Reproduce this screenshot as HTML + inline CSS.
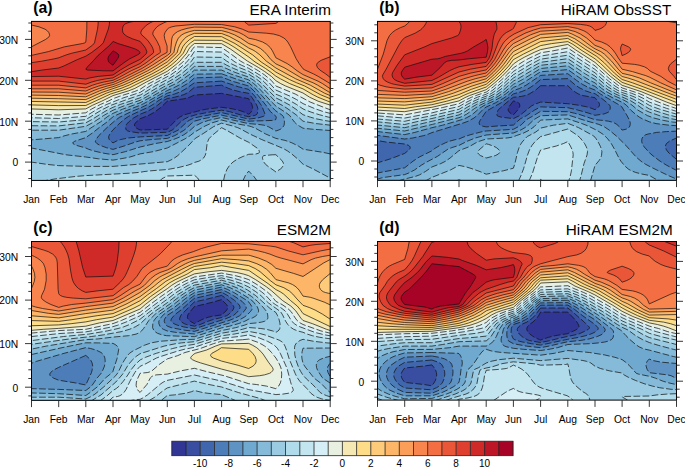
<!DOCTYPE html>
<html><head><meta charset="utf-8"><title>Seasonal cycle contour panels</title>
<style>
html,body{margin:0;padding:0;background:#fff;}
body{width:685px;height:467px;overflow:hidden;}
svg{display:block;}
text{font-family:"Liberation Sans",sans-serif;fill:#000;}
.tl{font-size:10.3px;}
.cl{font-size:10px;}
.tg{font-size:15.8px;font-weight:bold;}
.tt{font-size:15.3px;}
</style></head><body>
<svg width="685" height="467" viewBox="0 0 685 467">
<rect width="685" height="467" fill="#fff"/>
<clipPath id="clip_a"><rect x="31.5" y="21.4" width="298.7" height="159.0"/></clipPath>
<g clip-path="url(#clip_a)">
<rect x="30.5" y="20.4" width="300.7" height="161.0" fill="#313695"/>
<path fill="#394ea1" fill-rule="evenodd" d="M30 20.4L331.7 20.4L331.7 181.2L30 181.2L30 20.4ZM221.6 93.4L194.4 95L189.8 97.2L183.9 98.8L167.3 101.2L160.6 107.6L154.1 112.4L148.2 115.6L140.1 118.7L135.4 122.8L134.5 124.4L134.6 126L135.8 127.6L136.8 128.4L140.1 130L167.3 129.2L176.5 119.6L179.6 117.2L184.2 114.8L202 110L206.4 109.2L221.6 107.3L229.8 108.4L238 110L243 111.6L248.7 114.2L250.1 113.2L251.4 111.6L252.2 110L252.6 107.6L251.9 104.4L248.7 98.7L221.6 93.4Z"/>
<path fill="#4067ad" fill-rule="evenodd" d="M30 20.4L331.7 20.4L331.7 181.2L30 181.2L30 20.4ZM221.6 85.2L194.4 87.3L189.3 91.6L186.8 93.2L183.3 94.8L174.7 97.2L167.3 98.5L163.6 100.4L157.6 105.2L151.4 109.2L146.7 111.6L140.1 114.2L133.5 118L128.6 122L126.5 124.4L125.6 126.8L125.9 129.2L126.4 130L127.5 130.8L129.9 131.6L140.1 133.1L167.3 132.3L172.2 130L173.3 129.2L181.4 121.2L184.9 118.8L188.1 117.2L195.7 114.8L212.1 111.6L221.6 110.2L229.4 111.6L240.3 114.8L248.7 116.7L254.1 115.6L256.3 114.8L257.1 114L257.4 113.2L257.8 110.8L257.8 108.4L257.1 106L255.9 103.6L252.3 98L248.7 93.3L239.4 91.6L233.1 90L228.5 88.4L221.6 85.2Z"/>
<path fill="#4c7db8" fill-rule="evenodd" d="M30 20.4L331.7 20.4L331.7 181.2L30 181.2L30 20.4ZM221.6 81.1L194.4 82.8L185.1 89.2L180.9 91.6L174.6 94L167.3 95.8L158.8 100.4L153.1 104.4L149.1 106.8L131.6 114.8L128.5 116.4L124.9 118.8L120.2 122.8L113 129.8L111 132.4L109.4 134.8L108.7 136.4L108.7 138L109.3 139.6L110.7 141.2L113 142.9L116.2 141.2L120.4 139.6L128.2 138L140.1 136.9L167.3 135.5L178.3 130L186.9 122L189.1 120.4L192.3 118.8L194.4 117.9L201.4 116.4L221.6 112.6L248.7 119.1L257.8 118L263.3 116.4L264.7 115.6L265.3 114.8L261.8 106L255 96.4L248.7 89.4L238.5 86.8L221.6 81.1Z"/>
<path fill="#5e93c4" fill-rule="evenodd" d="M30 20.4L331.7 20.4L331.7 181.2L30 181.2L30 20.4ZM221.6 77L194.4 77.9L188.8 82.8L177.8 89.2L172.4 91.6L167.3 93.2L154.1 100.4L146.2 105.2L141.1 107.6L131.2 111.6L119.7 117.2L115.3 120.4L107 127.6L98.8 135.6L96 139.6L95.4 141.2L95.5 142L96.9 143.6L99.7 145.2L106.2 147.6L113 149.4L124.1 146L135.5 142L140.1 140.8L150.9 139.6L167.3 138.4L174.8 135.6L183.2 130.8L185.4 129.2L191.4 123.6L194.4 121.2L203 118.8L221.6 115.1L237.1 118.8L248.7 121.2L273.4 120.4L275.8 119.6L276.3 117.2L275.9 116.2L270.4 111.6L265.9 105.2L258.2 95.6L253.9 90.8L248.7 86L232.3 81.2L221.6 77Z"/>
<path fill="#70a9cf" fill-rule="evenodd" d="M30 20.4L331.7 20.4L331.7 181.2L30 181.2L30 20.4ZM221.6 73.8L194.4 74.2L185.4 81.2L181.8 83.6L174.1 87.6L167.3 90.5L143.8 103.6L140.1 105.3L125.9 110.8L113.5 116.4L105.9 122.8L99.2 127.6L93.2 132.4L85.8 137.6L74.8 141.2L73.4 142L72.8 142.8L73 143.6L75.8 145.2L85.8 148L88.4 149.2L93.1 150.8L103.5 153.2L113 154.7L125.6 151.6L140.1 147L155.1 143.6L167.3 141.5L173.2 139.6L179.3 137.2L183.8 134.8L189.6 130.8L194.4 126.5L201.5 122.8L208.4 120.4L221.6 117.5L248.4 123.6L258.3 124.4L264 125.2L268.6 126.8L275.9 131L278.8 130L280.5 129.2L282.7 127.6L284.1 125.2L284.4 122.8L284.4 120.4L283.9 118L283.3 116.4L281.7 114.8L275.9 111L274.8 110L256.1 89.2L248.7 82.9L237.8 79.6L221.6 73.8Z"/>
<path fill="#85bbd8" fill-rule="evenodd" d="M30 20.4L331.7 20.4L331.7 130.6L312.3 129.2L303 128.2L299.3 126L296.9 124.4L294.4 122L289.8 115.6L286.7 113.2L275.9 106.1L271.7 102L259.1 88.4L253.8 83.6L248.7 79.9L230.8 74L221.6 70.1L194.4 70.1L189.1 74.8L177.6 82.8L167.3 87.7L152.1 96.4L140.1 102.8L122.5 109.2L113 113.4L107.8 116.4L100.4 122L92.6 126.8L85.8 131.4L71.7 134L65.1 135.6L58.7 137.6L30 140L30 20.4ZM219.9 120.4L221.6 120L235.6 123.6L249.1 126L251.8 126.8L255.7 128.4L265.7 134L275.9 138.4L285.1 140.4L291.8 142.8L298.3 146L303 149.2L323.3 152.4L330.2 153.9L331.7 153.9L331.7 181.2L30 181.2L30 148L31.5 148L66 154.8L85.8 157L98.4 158.8L113 160.1L116.3 159.6L129.4 157.2L140.1 153.9L153.6 151.6L167.3 148L185.1 138.8L190.2 135.6L194.4 132.2L205.1 126L212.2 122.8L219.9 120.4Z"/>
<path fill="#9acbe2" fill-rule="evenodd" d="M30 20.4L331.7 20.4L331.7 125.3L316.1 123.6L303 121.2L296.1 114.8L289.5 110L283.5 106L275.9 102L264.5 90L258.7 84.4L253.8 80.4L248.7 77.1L235.1 72.4L221.6 66.4L194.4 66.4L185.6 74L176 80.4L171.9 82.8L163.8 86.8L147.4 96.4L140.1 100.3L125.7 105.2L113 110.2L103.5 115.6L93.9 122L85.8 126.3L58.7 130.2L30 130.2L30 20.4ZM220.6 123.6L221.6 123.2L232.8 126L237.6 127.6L241.1 129.2L249.8 134L261.8 139.6L269.1 142.8L279.5 146.8L284.6 149.2L288.6 151.6L291.8 154L298.4 159.6L303 164.2L312 168.4L330.2 178.1L331.7 178.1L331.7 181.2L257.3 181.2L253.8 176.4L248.7 171.1L245.3 175.6L242.7 181.2L30 181.2L30 162.1L31.5 162.1L47.2 164.4L58.7 165.6L85.8 166.4L113 166.4L167.3 161.7L173.4 158.8L177.8 155.6L188.9 145.2L194.4 139.2L195.9 138L203.8 133.2L213.3 126.8L220.6 123.6Z"/>
<path fill="#afdbea" fill-rule="evenodd" d="M30 20.4L331.7 20.4L331.7 121.4L330.2 121.4L324 120.4L316.3 118.8L310.4 117.2L303 114.7L295.9 109.2L289.9 105.2L282.6 101.2L275.9 97.9L261 82.8L258.2 80.4L253.6 77.2L248.7 74.2L241.3 71.6L233.5 68.4L226.7 65.2L221.6 62.3L194.4 62.3L189.8 66.8L183.2 72.4L179.9 74.8L169.4 81.2L158.7 86.8L144.1 95.6L140.1 97.8L120.5 104.4L113 107.3L106 110.8L91.7 119.6L85.8 122.8L58.7 125.9L30 125.7L30 20.4ZM220.8 128.4L221.6 127.7L224.5 129.2L239.9 138L248.7 142.3L257.6 148.4L258.8 150L259.4 151.6L259.3 152.4L258.7 153.2L255.8 154L248.7 154.3L243.1 156.4L237.9 158.8L233 162L229.7 165.2L227 169.2L224.8 174.8L223.4 181.2L41.4 181.2L55.9 178.8L76.1 176.4L85.8 175.6L129.8 173.2L140.1 172.3L143.9 171.6L150.7 170.8L167.3 169.5L178.1 167.6L187.8 165.2L192.3 163.6L194.4 162.5L198.9 161.2L201.9 159.6L203.6 158L205.1 155.6L205.9 153.2L207 144.4L207.9 141.2L208.9 138.8L212 135.6L220.8 128.4ZM272.2 154.8L275.9 154.7L281.8 160.4L282.9 162L283.5 163.6L283.4 165.2L282 167.6L280.2 169.2L275.9 171.9L268.6 166.8L265.6 164.4L263.8 162L262.6 158.8L262.5 157.2L262.8 156.4L263.8 155.6L272.2 154.8Z"/>
<path fill="#c3e5f0" fill-rule="evenodd" d="M30 20.4L331.7 20.4L331.7 117.5L328.7 117.2L319.6 114.8L311.9 112.4L305.5 110L303 108.9L296.4 104.4L288.1 99.6L283.2 97.2L275.9 94.2L264.3 82L261.6 79.6L257.1 76.4L248.7 71.3L239.3 67.6L230.9 63.6L226.8 61.2L221.6 57.4L194.4 57L191.4 61.2L189.2 63.6L177.7 73.2L170 78L155 86L140.8 94.8L128.9 98.8L111.2 105.2L101.6 110L85.8 119.6L58.7 122L30 121.6L30 20.4ZM184 175.6L194.4 175.2L197.7 178L199.7 181.2L160.6 181.2L160.5 180.4L161.8 178.8L167.3 176L184 175.6Z"/>
<path fill="#d6eef6" fill-rule="evenodd" d="M30 20.4L331.7 20.4L331.7 113.4L330.2 113.4L323.3 111.6L314.2 108.4L303 103.6L296.6 99.6L290.6 96.4L275.9 90.1L267.7 81.2L260.7 75.6L248.7 68.3L241.4 65.2L235 62L221.6 52.1L194.4 51.5L190.1 58L186 62.8L176.5 70.8L170.8 74.8L151.2 85.2L140.1 92.4L123 98L106.8 104.4L97.2 109.2L85.8 116.3L58.7 118.5L30 117.7L30 20.4Z"/>
<path fill="#e8f0e1" fill-rule="evenodd" d="M30 20.4L331.7 20.4L331.7 109.7L330.2 109.7L328.6 109.2L310.1 102L295.2 94L275.9 86L271.3 80.4L264.4 74.8L258.4 70.8L248.8 65.2L243.5 62.8L240.7 61.2L227.6 51.6L221.6 47.6L194.4 46.8L192.4 49.2L190 53.2L187.6 56.4L182.9 62L172.2 70.8L167.5 74L147.4 84.4L140.1 89.3L134.3 91.6L119.2 96.4L113 98.7L108.1 101.2L100.6 104.4L95.7 106.8L91.3 109.2L85.8 112.8L58.7 115L30 114.2L30 20.4Z"/>
<path fill="#f5e8b2" fill-rule="evenodd" d="M30 20.4L331.7 20.4L331.7 105.1L330.2 105.1L318.1 101.2L309.6 97.2L303 93L285.6 86L280.7 83.6L275.9 80.7L271.4 76.4L264.8 71.6L258.6 67.6L247.6 61.2L230.7 49.2L221.6 43.7L194.4 43.5L190.5 46.8L188.8 49.2L186.7 53.2L179.8 61.2L176.2 64.4L167.3 71.3L146.4 82L134.9 88.4L128.7 90.8L113 95.6L101.7 101.2L92.7 105.2L85.8 108.9L58.7 109.8L30 108.9L30 20.4Z"/>
<path fill="#fedd89" fill-rule="evenodd" d="M30 20.4L331.7 20.4L331.7 102L330.2 102L327.9 101.2L317.9 97.2L313.2 94.8L303 88.9L289.7 83.6L280.4 78.8L275.9 76.2L271.1 72.4L265.4 68.4L255.1 62L249 57.2L234.9 47.6L228.3 43.6L221.6 40.4L194.4 40.2L190.6 42.8L187.2 46L185.7 48.4L183.3 53.2L176.7 60.4L171.1 65.2L163 70.8L157.1 74L129.9 87.6L123.4 90L110.6 94L85.8 105.5L58.7 105.6L30 104.9L30 20.4Z"/>
<path fill="#fecb7a" fill-rule="evenodd" d="M30 20.4L331.7 20.4L331.7 98.7L330.2 98.7L320.7 94.8L304.7 86L296.7 82.8L289.6 79.6L275.9 72.1L270.9 68.4L261.2 62L252.5 54.8L235.1 43.6L222.6 37.2L221.6 36.7L194.4 36.5L189.5 39.6L185.1 43.6L182.8 46.8L180 53.2L173.7 59.6L167.3 65L159.2 70L151.9 74L129 85.2L121 88.4L113 90.8L106.4 93.2L85.8 102.5L30 101.4L30 20.4Z"/>
<path fill="#fdb667" fill-rule="evenodd" d="M30 20.4L331.7 20.4L331.7 95.6L330.2 95.6L324.5 93.2L310.4 85.2L295.7 78.8L275.9 68L266.4 61.2L259.8 54.8L255.6 51.6L253 50L248.7 48L239.4 42L229.2 36.4L221.6 33.5L194.4 33.3L188.7 35.6L186.1 37.2L184.3 38.8L181.6 42L179.6 45.2L178.3 48.4L177.2 52.4L176.6 53.2L167.3 61.9L151.3 71.6L130.4 82L123.1 85.2L102.1 92.4L85.8 99.6L58.7 98.7L30 98.2L30 20.4Z"/>
<path fill="#fb9e59" fill-rule="evenodd" d="M30 20.4L331.7 20.4L331.7 92.6L330.2 92.6L328.3 91.6L317.7 85.2L313.1 82.8L303 78.7L300.1 77.2L284 67.6L275.9 63.9L270.9 59.6L267.1 54.8L264.2 51.6L260.3 48.4L255.8 46L248.7 43.5L240.5 38L234.5 34.8L228.2 32.4L221.6 30.6L194.4 30.4L189.5 31.6L184.8 33.2L181.9 34.8L179.9 36.4L178 38.8L176.5 42L175 46.8L173.9 52.4L173.3 53.2L167.3 58.6L155.9 66L147.7 70.8L128.4 80.4L119.3 84.4L113 86.7L106.7 88.4L99.7 90.8L85.8 96.8L58.7 95.5L30 95.1L30 20.4Z"/>
<path fill="#f8854d" fill-rule="evenodd" d="M30 20.4L331.7 20.4L331.7 88.7L330.2 88.7L322.5 83.6L318.1 81.2L303 74.6L297.1 70.8L292 66.8L287.2 63.6L275.9 57.8L272.4 50.8L270.3 47.6L266.8 44.4L262.6 42L255.6 39.6L248.7 38.2L243.6 34.8L238.8 32.4L231.8 30L222.8 27.6L221.6 27.4L194.4 27.1L187 28.4L181.4 30L177.6 31.6L174.2 34L172.5 36.4L171.8 38.8L170.5 52.4L170 53.2L167.3 55.4L152.3 65.2L144.1 70L124.9 79.6L115.7 83.6L113 84.6L107.3 86L99.4 88.4L93 90.8L85.8 94L58.7 92.2L30 92L30 20.4Z"/>
<path fill="#f36e42" fill-rule="evenodd" d="M30 20.4L331.7 20.4L331.7 83.6L330.2 83.6L318.2 76.4L313.7 74L304.9 70L303 68.8L299.2 63.6L296.2 58.8L290.6 46.8L287.8 42L285.8 39.6L283.9 38L279.3 35.6L273.3 34L266.5 33.2L248.7 32L242.3 29.2L234.8 26.8L221.6 24.5L194.4 24.3L175.8 26L171.9 26.8L169.6 27.6L168.2 28.4L167.3 29.2L165.1 32.4L164.5 34L164.2 35.6L164.7 38.8L167.1 46L167.1 52.4L161.2 55.6L149.8 63.6L142.1 68.4L121.4 78.8L113 82.5L104.5 84.4L98.8 86L92 88.4L85.8 91L58.7 88.8L30 88.8L30 46.8L31.5 46.8L45.3 39.6L48.7 37.2L49.6 35.6L49.4 34L48.7 32.4L47.3 30.8L45.1 29.2L39 26.8L32.1 25.2L30 25.1L30 20.4Z"/>
<path fill="#ea5738" fill-rule="evenodd" d="M86.9 20.4L177.6 20.4L167.3 21.4L163.9 22.8L159.3 25.2L157.1 26.8L154.9 29.2L153.3 31.6L152.8 33.2L153 34.8L157 41.2L159.7 46.8L160.4 51.6L160.4 52.4L159.5 53.2L155.6 55.6L146.1 62.8L140.1 66.7L131.1 70.8L114.6 79.6L113 80.3L103.9 82L97.5 83.6L92.5 85.2L85.8 87.9L58.7 85.2L30 85.2L30 55.4L31.5 55.4L48.4 51.6L64.5 46.8L82.2 43.6L85 42.8L85.8 42.1L86.1 38.8L86.8 29.2L86.9 20.4ZM244.5 20.4L278.8 20.4L277.9 22L275.9 23.4L248.7 25.1L244.7 22L244.1 21.2L244.5 20.4ZM329 57.2L330.2 56.8L331.7 56.8L331.7 77.4L330.2 77.4L325.8 74L319.8 70L317.5 67.6L316.6 65.2L317 63.6L317.5 62.8L319.5 61.2L322.6 59.6L329 57.2Z"/>
<path fill="#df3f2e" fill-rule="evenodd" d="M98.2 20.4L155.2 20.4L150.2 22.8L146.4 25.2L142.5 29.2L141.4 30.8L140.8 32.4L140.8 33.2L141.7 34.8L147.8 40.4L151.7 46L152.8 48.4L153.5 50.8L153.6 52.4L153.1 53.2L140.1 63.5L128 69.2L113 77.9L106.1 78.8L97.7 80.4L91.8 82L85.8 84.2L58.7 81.1L30 81.1L30 62.7L31.5 62.7L46.3 60.4L58.7 57.8L69 54L85.8 50L92.5 45.2L94 43.6L95 41.2L97.7 28.4L98.1 24.4L98.2 20.4Z"/>
<path fill="#d02a28" fill-rule="evenodd" d="M109.5 20.4L140.5 20.4L130.2 22L125.7 23.6L124.5 24.4L123.2 26L122.4 29.2L122.9 32.4L124.7 34.8L127 36.4L130.3 38L140.1 41.4L145.2 47.6L146.6 50.8L146.9 52.4L146.6 53.2L144.4 55.6L140.1 59.4L129.8 64.4L120.3 70L113 75L98.2 76.4L89.3 78L85.8 79.1L58.7 76.2L30 76.6L30 71.7L31.5 71.7L42.3 70L58.7 68L63.8 66L77.3 59.6L85.8 56.2L93 51.6L100.2 46L103.3 42.8L108.3 29.2L109.4 24.4L109.5 20.4Z"/>
<path fill="#bc1627" fill-rule="evenodd" d="M112.6 42L113 41.4L118.1 43.6L131.4 47.6L135.7 49.2L138.6 50.8L139.5 51.6L140 52.4L140 53.2L137.7 54.8L129.7 58.8L123.8 62.8L113 70.9L103.8 70.8L87.1 70L85.8 69.2L87.5 66.8L92.2 62L97.9 55.6L109.8 45.2L112.6 42Z"/>
<path fill="#a70326" fill-rule="evenodd" d="M112.4 51.6L113 50.9L115.9 52.4L118.1 54L118.8 55.6L118.5 57.2L117.6 58.8L113 65.2L109.5 62.8L108.4 61.2L108 59.6L108 58L108.6 56.4L112.4 51.6Z"/>
<path fill="none" stroke="#111" stroke-width="0.7" stroke-linejoin="round" d="M331.7 105.1L330.2 105.1L318.1 101.2L309.6 97.2L303 93L285.6 86L280.7 83.6L275.9 80.7L271.4 76.4L264.8 71.6L258.6 67.6L247.6 61.2L230.7 49.2L221.6 43.7L194.4 43.5L190.5 46.8L188.8 49.2L186.7 53.2L179.8 61.2L176.2 64.4L167.3 71.3L146.4 82L134.9 88.4L128.7 90.8L113 95.6L101.7 101.2L92.7 105.2L85.8 108.9L58.7 109.8L30 108.9M331.7 102L330.2 102L327.9 101.2L317.9 97.2L313.2 94.8L303 88.9L289.7 83.6L280.4 78.8L275.9 76.2L271.1 72.4L265.4 68.4L255.1 62L249 57.2L234.9 47.6L228.3 43.6L221.6 40.4L194.4 40.2L190.6 42.8L187.2 46L185.7 48.4L183.3 53.2L176.7 60.4L171.1 65.2L163 70.8L157.1 74L129.9 87.6L123.4 90L110.6 94L85.8 105.5L58.7 105.6L30 104.9M331.7 98.7L330.2 98.7L320.7 94.8L304.7 86L296.7 82.8L289.6 79.6L275.9 72.1L270.9 68.4L261.2 62L252.5 54.8L235.1 43.6L222.6 37.2L221.6 36.7L194.4 36.5L189.5 39.6L185.1 43.6L182.8 46.8L180 53.2L173.7 59.6L167.3 65L159.2 70L151.9 74L129 85.2L121 88.4L113 90.8L106.4 93.2L85.8 102.5L30 101.4M331.7 95.6L330.2 95.6L324.5 93.2L310.4 85.2L295.7 78.8L275.9 68L266.4 61.2L259.8 54.8L255.6 51.6L253 50L248.7 48L239.4 42L229.2 36.4L221.6 33.5L194.4 33.3L188.7 35.6L186.1 37.2L184.3 38.8L181.6 42L179.6 45.2L178.3 48.4L177.2 52.4L176.6 53.2L167.3 61.9L151.3 71.6L130.4 82L123.1 85.2L102.1 92.4L85.8 99.6L58.7 98.7L30 98.2M331.7 92.6L330.2 92.6L328.3 91.6L317.7 85.2L313.1 82.8L303 78.7L300.1 77.2L284 67.6L275.9 63.9L270.9 59.6L267.1 54.8L264.2 51.6L260.3 48.4L255.8 46L248.7 43.5L240.5 38L234.5 34.8L228.2 32.4L221.6 30.6L194.4 30.4L189.5 31.6L184.8 33.2L181.9 34.8L179.9 36.4L178 38.8L176.5 42L175 46.8L173.9 52.4L173.3 53.2L167.3 58.6L155.9 66L147.7 70.8L128.4 80.4L119.3 84.4L113 86.7L106.7 88.4L99.7 90.8L85.8 96.8L58.7 95.5L30 95.1M331.7 88.7L330.2 88.7L322.5 83.6L318.1 81.2L303 74.6L297.1 70.8L292 66.8L287.2 63.6L275.9 57.8L272.4 50.8L270.3 47.6L266.8 44.4L262.6 42L255.6 39.6L248.7 38.2L243.6 34.8L238.8 32.4L231.8 30L222.8 27.6L221.6 27.4L194.4 27.1L187 28.4L181.4 30L177.6 31.6L174.2 34L172.5 36.4L171.8 38.8L170.5 52.4L170 53.2L167.3 55.4L152.3 65.2L144.1 70L124.9 79.6L115.7 83.6L113 84.6L107.3 86L99.4 88.4L93 90.8L85.8 94L58.7 92.2L30 92M30 46.8L31.5 46.8L45.3 39.6L48.7 37.2L49.6 35.6L49.4 34L48.7 32.4L47.3 30.8L45.1 29.2L39 26.8L32.1 25.2L30 25.1M331.7 83.6L330.2 83.6L318.2 76.4L313.7 74L304.9 70L303 68.8L299.2 63.6L296.2 58.8L290.6 46.8L287.8 42L285.8 39.6L283.9 38L279.3 35.6L273.3 34L266.5 33.2L248.7 32L242.3 29.2L234.8 26.8L221.6 24.5L194.4 24.3L175.8 26L171.9 26.8L169.6 27.6L168.2 28.4L167.3 29.2L165.1 32.4L164.5 34L164.2 35.6L164.7 38.8L167.1 46L167.1 52.4L161.2 55.6L149.8 63.6L142.1 68.4L121.4 78.8L113 82.5L104.5 84.4L98.8 86L92 88.4L85.8 91L58.7 88.8L30 88.8M177.6 20.4L167.3 21.4L163.9 22.8L159.3 25.2L157.1 26.8L154.9 29.2L153.3 31.6L152.8 33.2L153 34.8L157 41.2L159.7 46.8L160.4 51.6L160.4 52.4L159.5 53.2L155.6 55.6L146.1 62.8L140.1 66.7L131.1 70.8L119.5 77.2L113 80.3L103.9 82L97.5 83.6L92.5 85.2L85.8 87.9L58.7 85.2L30 85.2M278.8 20.4L277.9 22L275.9 23.4L248.7 25.1L244.7 22L244.1 21.2L244.5 20.4M30 55.4L31.5 55.4L48.4 51.6L64.5 46.8L82.2 43.6L85 42.8L85.8 42.1L86.1 38.8L86.8 29.2L86.9 20.4M331.7 77.4L330.2 77.4L325.8 74L319.8 70L317.5 67.6L316.6 65.2L317 63.6L317.5 62.8L320.9 60.4L330.2 56.8L331.7 56.8M155.2 20.4L150.2 22.8L146.4 25.2L142.5 29.2L141.4 30.8L140.8 32.4L140.8 33.2L141.7 34.8L147.8 40.4L151.7 46L152.8 48.4L153.5 50.8L153.6 52.4L153.1 53.2L140.1 63.5L128 69.2L113 77.9L106.1 78.8L97.7 80.4L91.8 82L85.8 84.2L58.7 81.1L30 81.1M30 62.7L31.5 62.7L41.6 61.2L54.4 58.8L58.7 57.8L66.5 54.8L71.9 53.2L85.8 50L92.5 45.2L94.5 42.8L97.5 29.2L98.1 24.4L98.2 20.4M140.5 20.4L130.2 22L125.7 23.6L124.5 24.4L123.2 26L122.5 28.4L122.5 30.8L122.9 32.4L123.9 34L127 36.4L132.4 38.8L140.1 41.4L144 46L145.6 48.4L146.8 51.6L146.6 53.2L144.4 55.6L140.1 59.4L129.8 64.4L120.3 70L113 75L98.2 76.4L89.3 78L85.8 79.1L58.7 76.2L30 76.6M30 71.7L31.5 71.7L42.3 70L58.7 68L63.8 66L77.3 59.6L85.8 56.2L91.8 52.4L100.2 46L103.3 42.8L108.3 29.2L109.4 24.4L109.5 20.4M112.6 42L113 41.4L118.1 43.6L131.4 47.6L135.7 49.2L138.6 50.8L139.5 51.6L140 52.4L140 53.2L137.7 54.8L129.7 58.8L123.8 62.8L113 70.9L103.8 70.8L87.1 70L85.8 69.2L87.5 66.8L92.2 62L97.9 55.6L109.8 45.2L112.6 42M112.4 51.6L113 50.9L115.9 52.4L118.1 54L118.8 55.6L118.5 57.2L117.6 58.8L113 65.2L109.5 62.8L108.4 61.2L108 59.6L108 58L108.6 56.4L112.4 51.6"/>
<path fill="none" stroke="#111" stroke-width="0.72" stroke-dasharray="6.7 2.4" d="M221.6 93.4L194.4 95L189.8 97.2L183.9 98.8L167.3 101.2L160.6 107.6L154.1 112.4L148.2 115.6L140.1 118.7L135.4 122.8L134.5 124.4L134.6 126L135.8 127.6L136.8 128.4L140.1 130L167.3 129.2L176.5 119.6L179.6 117.2L184.2 114.8L202 110L206.4 109.2L221.6 107.3L229.8 108.4L238 110L243 111.6L248.7 114.2L250.1 113.2L251.4 111.6L252.2 110L252.6 107.6L251.9 104.4L248.7 98.7L221.6 93.4M221.6 85.2L194.4 87.3L189.3 91.6L186.8 93.2L183.3 94.8L174.7 97.2L167.3 98.5L163.6 100.4L157.6 105.2L151.4 109.2L146.7 111.6L140.1 114.2L133.5 118L128.6 122L126.5 124.4L125.6 126.8L125.9 129.2L126.4 130L127.5 130.8L129.9 131.6L140.1 133.1L167.3 132.3L172.2 130L173.3 129.2L181.4 121.2L184.9 118.8L188.1 117.2L195.7 114.8L212.1 111.6L221.6 110.2L229.4 111.6L240.3 114.8L248.7 116.7L254.1 115.6L256.3 114.8L257.1 114L257.4 113.2L257.8 110.8L257.8 108.4L257.1 106L255.9 103.6L252.3 98L248.7 93.3L239.4 91.6L233.1 90L228.5 88.4L221.6 85.2M221.6 81.1L194.4 82.8L185.1 89.2L180.9 91.6L174.6 94L167.3 95.8L158.8 100.4L153.1 104.4L149.1 106.8L131.6 114.8L128.5 116.4L124.9 118.8L120.2 122.8L113 129.8L111 132.4L109.4 134.8L108.7 136.4L108.7 138L109.3 139.6L110.7 141.2L113 142.9L116.2 141.2L120.4 139.6L128.2 138L140.1 136.9L167.3 135.5L178.3 130L186.9 122L189.1 120.4L192.3 118.8L194.4 117.9L201.4 116.4L221.6 112.6L248.7 119.1L257.8 118L263.3 116.4L264.7 115.6L265.3 114.8L261.8 106L255 96.4L248.7 89.4L238.5 86.8L221.6 81.1M221.6 77L194.4 77.9L188.8 82.8L177.8 89.2L172.4 91.6L167.3 93.2L154.1 100.4L146.2 105.2L141.1 107.6L131.2 111.6L119.7 117.2L115.3 120.4L107 127.6L98.8 135.6L96 139.6L95.4 141.2L95.5 142L96.9 143.6L99.7 145.2L106.2 147.6L113 149.4L124.1 146L135.5 142L140.1 140.8L150.9 139.6L167.3 138.4L174.8 135.6L183.2 130.8L185.4 129.2L191.4 123.6L194.4 121.2L203 118.8L221.6 115.1L237.1 118.8L248.7 121.2L273.4 120.4L275.8 119.6L276.3 117.2L275.9 116.2L270.4 111.6L265.9 105.2L258.2 95.6L253.9 90.8L248.7 86L232.3 81.2L221.6 77M221.6 73.8L194.4 74.2L185.4 81.2L181.8 83.6L174.1 87.6L167.3 90.5L143.8 103.6L140.1 105.3L125.9 110.8L113.5 116.4L105.9 122.8L99.2 127.6L93.2 132.4L85.8 137.6L74.8 141.2L73.4 142L72.8 142.8L73 143.6L75.8 145.2L85.8 148L88.4 149.2L93.1 150.8L103.5 153.2L113 154.7L125.6 151.6L140.1 147L155.1 143.6L167.3 141.5L173.2 139.6L179.3 137.2L183.8 134.8L189.6 130.8L194.4 126.5L201.5 122.8L208.4 120.4L221.6 117.5L248.4 123.6L258.3 124.4L264 125.2L268.6 126.8L275.9 131L278.8 130L280.5 129.2L282.7 127.6L284.1 125.2L284.4 122.8L284.4 120.4L283.9 118L283.3 116.4L281.7 114.8L275.9 111L274.8 110L256.1 89.2L248.7 82.9L237.8 79.6L221.6 73.8M331.7 130.6L312.3 129.2L303 128.2L299.3 126L296.9 124.4L294.4 122L289.8 115.6L286.7 113.2L275.9 106.1L271.7 102L259.1 88.4L253.8 83.6L248.7 79.9L230.8 74L221.6 70.1L194.4 70.1L189.1 74.8L177.6 82.8L167.3 87.7L152.1 96.4L140.1 102.8L122.5 109.2L113 113.4L107.8 116.4L100.4 122L92.6 126.8L85.8 131.4L71.7 134L65.1 135.6L58.7 137.6L30 140M30 148L31.5 148L66 154.8L85.8 157L98.4 158.8L113 160.1L116.3 159.6L129.4 157.2L140.1 153.9L153.6 151.6L167.3 148L185.1 138.8L190.2 135.6L194.4 132.2L205.1 126L212.2 122.8L221.6 120L235.6 123.6L249.1 126L251.8 126.8L255.7 128.4L265.7 134L275.9 138.4L285.1 140.4L291.8 142.8L298.3 146L303 149.2L323.3 152.4L330.2 153.9L331.7 153.9M331.7 125.3L316.1 123.6L303 121.2L296.1 114.8L289.5 110L283.5 106L275.9 102L264.5 90L258.7 84.4L253.8 80.4L248.7 77.1L235.1 72.4L221.6 66.4L194.4 66.4L185.6 74L176 80.4L171.9 82.8L163.8 86.8L147.4 96.4L140.1 100.3L125.7 105.2L113 110.2L103.5 115.6L93.9 122L85.8 126.3L58.7 130.2L30 130.2M30 162.1L31.5 162.1L47.2 164.4L58.7 165.6L85.8 166.4L113 166.4L167.3 161.7L173.4 158.8L177.8 155.6L188.9 145.2L194.4 139.2L195.9 138L203.8 133.2L213.3 126.8L216.6 125.2L221.6 123.2L232.8 126L237.6 127.6L241.1 129.2L249.8 134L261.8 139.6L283.1 148.4L287.3 150.8L291.8 154L298.4 159.6L303 164.2L312 168.4L330.2 178.1L331.7 178.1M257.3 181.2L253.8 176.4L248.7 171.1L245.3 175.6L242.7 181.2M331.7 121.4L330.2 121.4L324 120.4L316.3 118.8L310.4 117.2L303 114.7L295.9 109.2L289.9 105.2L282.6 101.2L275.9 97.9L261 82.8L258.2 80.4L253.6 77.2L248.7 74.2L241.3 71.6L233.5 68.4L226.7 65.2L221.6 62.3L194.4 62.3L189.8 66.8L183.2 72.4L179.9 74.8L169.4 81.2L158.7 86.8L144.1 95.6L140.1 97.8L120.5 104.4L113 107.3L106 110.8L91.7 119.6L85.8 122.8L58.7 125.9L30 125.7M272.2 154.8L275.9 154.7L281.8 160.4L282.9 162L283.5 163.6L283.4 165.2L282 167.6L280.2 169.2L275.9 171.9L268.6 166.8L265.6 164.4L263.8 162L262.6 158.8L262.5 157.2L262.8 156.4L263.8 155.6L272.2 154.8M41.4 181.2L55.9 178.8L76.1 176.4L85.8 175.6L129.8 173.2L140.1 172.3L143.9 171.6L150.7 170.8L167.3 169.5L178.1 167.6L187.8 165.2L192.3 163.6L194.4 162.5L198.9 161.2L201.9 159.6L203.6 158L205.1 155.6L205.9 153.2L207 144.4L207.9 141.2L208.9 138.8L212 135.6L221.6 127.7L227.6 130.8L239.9 138L248.7 142.3L257.6 148.4L258.8 150L259.4 151.6L259.3 152.4L258.7 153.2L255.8 154L248.7 154.3L243.1 156.4L237.9 158.8L233 162L229.7 165.2L227 169.2L224.8 174.8L223.4 181.2M331.7 117.5L328.7 117.2L319.6 114.8L311.9 112.4L305.5 110L303 108.9L296.4 104.4L288.1 99.6L283.2 97.2L275.9 94.2L264.3 82L261.6 79.6L257.1 76.4L248.7 71.3L239.3 67.6L230.9 63.6L226.8 61.2L221.6 57.4L194.4 57L191.4 61.2L189.2 63.6L177.7 73.2L170 78L155 86L140.8 94.8L128.9 98.8L111.2 105.2L101.6 110L85.8 119.6L58.7 122L30 121.6M160.6 181.2L160.5 180.4L161.8 178.8L167.3 176L194.4 175.2L197.7 178L199.7 181.2M331.7 113.4L330.2 113.4L323.3 111.6L314.2 108.4L303 103.6L296.6 99.6L290.6 96.4L275.9 90.1L267.7 81.2L260.7 75.6L248.7 68.3L241.4 65.2L235 62L221.6 52.1L194.4 51.5L190.1 58L186 62.8L176.5 70.8L170.8 74.8L151.2 85.2L140.1 92.4L123 98L106.8 104.4L97.2 109.2L85.8 116.3L58.7 118.5L30 117.7M331.7 109.7L330.2 109.7L328.6 109.2L310.1 102L295.2 94L275.9 86L271.3 80.4L264.4 74.8L258.4 70.8L248.8 65.2L243.5 62.8L240.7 61.2L227.6 51.6L221.6 47.6L194.4 46.8L192.4 49.2L190 53.2L187.6 56.4L182.9 62L172.2 70.8L167.5 74L147.4 84.4L140.1 89.3L134.3 91.6L119.2 96.4L113 98.7L108.1 101.2L100.6 104.4L95.7 106.8L91.3 109.2L85.8 112.8L58.7 115L30 114.2"/>
</g>
<rect x="31.5" y="21.4" width="298.7" height="159.0" fill="none" stroke="#000" stroke-width="1"/>
<path fill="none" stroke="#222" stroke-width="0.9" d="M31.5 180.4V187.2M58.7 180.4V187.2M85.8 180.4V187.2M113 180.4V187.2M140.1 180.4V187.2M167.3 180.4V187.2M194.4 180.4V187.2M221.6 180.4V187.2M248.7 180.4V187.2M275.9 180.4V187.2M303 180.4V187.2M330.2 180.4V187.2M31.5 178.5H28.3M330.2 178.5H333.4M31.5 170.3H28.3M330.2 170.3H333.4M31.5 162.1H25M330.2 162.1H336.7M31.5 153.9H28.3M330.2 153.9H333.4M31.5 145.7H28.3M330.2 145.7H333.4M31.5 137.6H28.3M330.2 137.6H333.4M31.5 129.4H28.3M330.2 129.4H333.4M31.5 121.2H25M330.2 121.2H336.7M31.5 113H28.3M330.2 113H333.4M31.5 104.8H28.3M330.2 104.8H333.4M31.5 96.7H28.3M330.2 96.7H333.4M31.5 88.5H28.3M330.2 88.5H333.4M31.5 80.3H25M330.2 80.3H336.7M31.5 72.1H28.3M330.2 72.1H333.4M31.5 63.9H28.3M330.2 63.9H333.4M31.5 55.8H28.3M330.2 55.8H333.4M31.5 47.6H28.3M330.2 47.6H333.4M31.5 39.4H25M330.2 39.4H336.7M31.5 31.2H28.3M330.2 31.2H333.4M31.5 23H28.3M330.2 23H333.4"/>
<text x="31.5" y="202.8" text-anchor="middle" class="tl">Jan</text>
<text x="58.7" y="202.8" text-anchor="middle" class="tl">Feb</text>
<text x="85.8" y="202.8" text-anchor="middle" class="tl">Mar</text>
<text x="113" y="202.8" text-anchor="middle" class="tl">Apr</text>
<text x="140.1" y="202.8" text-anchor="middle" class="tl">May</text>
<text x="167.3" y="202.8" text-anchor="middle" class="tl">Jun</text>
<text x="194.4" y="202.8" text-anchor="middle" class="tl">Jul</text>
<text x="221.6" y="202.8" text-anchor="middle" class="tl">Aug</text>
<text x="248.7" y="202.8" text-anchor="middle" class="tl">Sep</text>
<text x="275.9" y="202.8" text-anchor="middle" class="tl">Oct</text>
<text x="303" y="202.8" text-anchor="middle" class="tl">Nov</text>
<text x="330.2" y="202.8" text-anchor="middle" class="tl">Dec</text>
<text x="18.2" y="166.4" text-anchor="end" class="tl">0</text>
<text x="18.2" y="125.5" text-anchor="end" class="tl">10N</text>
<text x="18.2" y="84.6" text-anchor="end" class="tl">20N</text>
<text x="18.2" y="43.7" text-anchor="end" class="tl">30N</text>
<text x="33.3" y="13.1" class="tg">(a)</text>
<text x="331" y="14.7" text-anchor="end" class="tt">ERA Interim</text>
<clipPath id="clip_b"><rect x="377.5" y="21.4" width="299.0" height="158.9"/></clipPath>
<g clip-path="url(#clip_b)">
<rect x="376.5" y="20.4" width="301.0" height="160.9" fill="#313695"/>
<path fill="#394ea1" fill-rule="evenodd" d="M376 20.4L678 20.4L678 181.2L376 181.2L376 20.4ZM513.4 100.9L509 106.8L508.1 109.2L508.4 110.8L509.5 112.4L511.6 114L513.4 114.9L518.4 109.2L519.6 106.8L519.8 105.2L519.3 103.6L518.5 102.8L517 102L513.4 100.9Z"/>
<path fill="#4067ad" fill-rule="evenodd" d="M376 20.4L678 20.4L678 181.2L376 181.2L376 20.4ZM540.6 85.7L535.7 90L529.2 94L525 95.6L521.4 96.4L513.4 97.3L510.2 99.6L500.6 107.6L498.2 110L497.4 111.6L496.8 114.8L497.1 115.6L498.5 116.4L501.4 117.2L513.4 118.6L519.6 115.6L531.4 106L534.4 104.4L540.6 102.1L567.8 103.7L578.4 105.2L586.7 106.8L591.8 108.4L595 109.7L598 107.6L599.3 106L599.5 104.4L599 102.8L595 97.7L583.1 95.6L578.5 94L575.7 92.4L572.3 90L567.8 85.7L540.6 85.7Z"/>
<path fill="#4c7db8" fill-rule="evenodd" d="M376 20.4L678 20.4L678 138L676.4 138L669.4 141.2L666.4 143.6L665.4 146L665.6 147.6L666.1 149.2L667.1 150.8L669.1 153.2L676.5 159.4L678 159.4L678 181.2L376 181.2L376 162.8L377.5 162.8L390.6 158.8L404.7 153.4L408.9 150L410.1 148.4L410.2 147.6L410 146.8L409.4 146L408.2 145.2L404.7 144L385.9 142L377.5 140.6L376 140.6L376 20.4ZM567.8 78.6L540.6 79.6L533.6 85.2L530.1 87.6L525.5 90L521.6 91.6L513.4 93.9L509.3 97.2L501 102.8L486.9 110.8L486.2 111.3L480.1 120.4L479.1 122.8L479.5 124.4L480.3 125.2L481.8 126L486.2 126.9L497.4 126L513.4 125.1L520.4 118.8L526.6 115.6L534.7 110L540.6 106.9L567.8 107.7L577.7 110L588.8 113.2L595 115.3L603.8 114L608 112.4L609.1 111.6L610 110L610.3 106.8L609.6 105.2L607.2 102.8L600.2 97.2L595 93.7L590.1 92.4L585.5 90.8L579.1 87.6L574.6 84.4L567.8 78.6Z"/>
<path fill="#5e93c4" fill-rule="evenodd" d="M376 20.4L678 20.4L678 131.1L666.4 131.6L656.7 132.4L648.1 134L645.5 134.8L643.1 136.4L641.9 138.8L641.7 141.2L642.2 143.6L644.1 146.8L649.3 152.6L653.6 156.4L660.1 161.2L666.5 165.2L676.5 170.4L678 170.4L678 181.2L376 181.2L376 173L377.5 173L404.7 167.8L411.9 162L417.6 158L423.4 154.8L431.9 150.8L436 147.6L445.4 142.8L452.1 140.4L459 139L465.3 136.4L472.8 134L482.4 131.6L486.2 131L513.4 129.3L519.7 126L521.7 124.4L525.7 120.4L527.8 118.8L533.7 115.6L540.6 111.3L567.8 111.7L574.4 113.2L580.4 114.8L595 119.7L602.7 120.4L608.4 121.2L611.8 122L614.1 122.8L616.8 124.4L619.4 126.8L622.1 130.1L626.2 129.2L628.9 127.6L629.9 126L630.3 123.6L629.9 121.2L629.2 119.6L626.6 114.8L621.8 106.8L618.3 104.4L600.4 94L595 90L588.7 87.6L582.5 84.4L576.6 80.4L567.8 73.7L540.6 75.4L526.1 85.2L519.7 88.4L513.4 90.6L508.5 94.8L503.9 98L495.5 102.8L486.2 107L483.2 109.2L477.9 114.8L474 118L468.2 121.2L463.9 122.8L431.9 132.6L428.6 134L423.8 135.6L412.6 138L404.7 139L377.5 135.4L376 135.4L376 20.4Z"/>
<path fill="#70a9cf" fill-rule="evenodd" d="M376 20.4L678 20.4L678 125.8L669.2 125.2L656.1 123.6L649.3 121.8L642.3 118.8L639.4 117.2L636.2 114.8L630.7 110L626.4 105.2L623.2 102.8L614.6 98.8L604.1 93.2L599.4 90L595 86.4L588.9 83.6L583.3 80.4L567.8 69.6L540.6 71.8L523.2 82.8L518.7 85.2L513.4 87.4L506.7 93.2L500.9 97.2L493.4 101.2L486.2 104.3L483.1 106L478.4 109.2L473.8 113.2L470.5 115.6L466.1 118L462 119.6L442.6 125.2L431.9 127.7L414.8 132.4L404.7 134.6L376 131.4L376 20.4ZM544.2 115.6L567.8 114.9L584.7 120.4L598.8 124.4L602.8 126L608.1 129.2L616.8 136.4L625.7 145.2L635.6 156.4L640.9 161.2L647.3 165.2L668.4 175.6L675.9 178.8L678 179L678 181.2L376 181.2L376 179.1L377.5 179.1L381.2 178L385.6 177.2L404.7 174.6L408.3 173.2L414.5 170L421.4 165.2L425.3 162.8L437.4 156.4L447.9 149.2L451.8 147.6L459 145.4L467.3 141.2L475.3 138L486.2 135L513.4 133L517 131.6L522.3 129.2L526.2 126.8L528.2 125.2L533 120.4L535.2 118.8L540.6 115.7L544.2 115.6Z"/>
<path fill="#85bbd8" fill-rule="evenodd" d="M376 20.4L678 20.4L678 122.5L672.4 122L663.3 120.4L653.8 118L647.4 115.6L637.7 110L632.1 105.2L627.3 102L622.8 99.6L612.1 94.8L606.3 91.6L601.6 88.4L595 82.9L590 80.4L584.6 77.2L567.8 65.8L540.6 68.5L522.4 79.6L513.4 84.3L505.1 91.6L498.1 96.4L493.6 98.8L479.9 105.2L474.7 108.4L466.9 114L462.3 116.4L459 117.7L447.6 120.4L432.4 124.4L404.7 131L376 128.1L376 20.4ZM550.8 119.6L567.8 118.9L586.3 125.2L591.6 127.6L597.7 130.8L601.6 133.2L604.7 135.6L609 140.4L613.7 147.6L618.4 157.2L620.3 160.4L624.1 165.2L627.4 168.4L631.4 170.8L635.5 172.4L641.6 174L649.3 175.4L655.1 178.8L660.1 181.2L397.9 181.2L402.4 179.6L415.4 176.4L419.7 174.8L425.3 171.6L431.9 167L440.8 163.6L445.6 161.2L450.1 158L459 150.6L469 146.8L475.9 142.8L479.6 141.2L486.2 139L507 138L513.4 137L514.3 136.4L516.3 135.6L523.3 133.2L529.6 130L534 126.8L540.6 120.1L550.8 119.6Z"/>
<path fill="#9acbe2" fill-rule="evenodd" d="M376 20.4L678 20.4L678 119.7L676.5 119.7L671.5 118.8L661.6 116.4L649.3 112.1L644.7 110L642 108.4L636.6 104.4L630 100.4L615.6 94L608.3 90L602.7 86L595 79.5L585.5 74L567.8 62.2L540.6 65.3L519.2 78L513.4 81.1L503.5 90L496.8 94.8L490.9 98L476.7 104.4L472.5 106.8L463.9 112.4L459 114.9L404.7 127.7L376 124.9L376 20.4ZM565.3 123.6L567.8 123.3L576.8 126.8L593 135.6L595 137.2L598.1 142L600.2 146L601.4 149.2L601.9 151.6L601.5 155.6L600.7 158L599.2 160.4L595 165.4L590.4 181.2L424.9 181.2L431.9 177.4L450.4 170L459 165.4L465.7 166.8L471 168.4L480.1 171.6L486.2 174.2L503.3 170.8L513.4 168.2L514.9 163.6L517.5 152.4L519.1 147.6L520.6 144.4L522.2 142L526.5 137.2L527.5 136.4L535.2 132.4L538.5 130L540.6 128.1L553.4 125.2L565.3 123.6ZM485.5 144.4L486.2 143.8L488.6 144.4L493.2 146L496.4 147.6L499.2 150L499.9 151.6L499.8 152.4L498.4 154L495.3 155.6L486.2 158L480.5 155.6L478.5 154L478 153.2L477.9 151.6L479 150L485.5 144.4Z"/>
<path fill="#afdbea" fill-rule="evenodd" d="M376 20.4L678 20.4L678 116.9L676.5 116.9L667.9 114.8L649.3 108.9L634.1 99.6L629 97.2L620.6 94L615.6 91.6L607.8 86.8L595 76.1L586.2 70.8L567.8 58.7L540.6 62.3L532.2 66.8L513.4 78L500.9 89.2L494.3 94L488.3 97.2L480.3 100.4L473.5 103.6L459 112.1L431.9 118.5L418.9 121.2L404.7 124.5L376 121.7L376 20.4ZM566.9 129.2L567.8 129L568.2 129.2L576.6 134.8L579.6 137.2L582.4 140.4L584.6 143.6L586.3 146.8L587.2 149.2L587.5 151.6L587.1 154.8L584 163.6L581.3 174.8L579.5 181.2L518.4 181.2L521.3 174.8L523.7 168.4L527.4 155.6L529 150.8L531.5 146L534.7 142L540.6 136.6L566.9 129.2ZM457.5 180.4L459 179.7L462.8 181.2L455.7 181.2L457.5 180.4Z"/>
<path fill="#c3e5f0" fill-rule="evenodd" d="M376 20.4L678 20.4L678 114.1L676.5 114.1L670.3 112.4L659.7 109.2L653 106.8L649.3 105.3L639.7 99.6L635 97.2L629.1 94.8L622.1 92.5L617.1 90L613.2 87.6L609.8 85.2L601.9 78.8L595 72.8L567.8 55.2L540.6 59.2L538.1 60.4L529.2 65.2L513.4 74.7L502.2 85.2L496.4 90L491.8 93.2L486.2 96.2L479 98.8L471.9 102L467.3 104.4L459 109.3L431.9 115.7L416.1 118.8L404.7 121.3L376 118.9L376 20.4ZM566.9 142L567.8 141.6L571.2 147.6L572.7 151.6L573.2 154.8L571.4 170.8L570.2 176.4L568.6 181.2L529 181.2L532.5 173.2L537.5 157.2L540.6 150L556.3 146L561.1 144.4L566.9 142Z"/>
<path fill="#d6eef6" fill-rule="evenodd" d="M376 20.4L678 20.4L678 111.3L676.5 111.3L666.7 108.4L649.3 102.1L644.1 98.8L637.6 95.6L631.3 93.2L622.1 90.3L620.1 89.2L615 86L608.7 81.2L595 69.4L567.8 51.7L540.6 56.1L533.2 59.6L526 63.6L513.4 71.4L507.7 77.2L501.5 82.8L492.9 90L489.4 92.4L486.2 94.2L477.5 97.2L471.8 99.6L465.4 102.8L459 106.5L443.3 110L431.9 112.9L404.7 118.1L376 115.7L376 20.4ZM540.5 179.6L540.6 179.4L542.8 181.2L539.7 181.2L540.5 179.6Z"/>
<path fill="#e8f0e1" fill-rule="evenodd" d="M376 20.4L678 20.4L678 108.5L676.5 108.5L666.4 105.2L649.3 98.5L643.9 95.6L638.3 93.2L622.1 87.9L618 85.2L609.6 78.8L595 65.9L567.8 48L553.1 50.8L540.6 52.8L528.1 58.8L523.8 61.2L513.4 67.8L507.7 74L501.8 79.6L493.4 86.8L487 91.6L486.2 92.1L477.9 94.8L471.7 97.2L466.5 99.6L459 103.7L442.4 107.6L404.7 114.9L376 112.9L376 20.4Z"/>
<path fill="#f5e8b2" fill-rule="evenodd" d="M376 20.4L678 20.4L678 105.7L676.5 105.7L666.4 102L641.1 91.6L622.1 85.3L610.5 76.4L595 62.4L575.8 50L567.8 44.4L540.6 49.6L534.1 52.4L524.4 57.2L518.7 60.4L513.4 64L508.3 70L502 76.4L494.8 82.8L486.2 89.7L469.4 95.6L464.2 98L459 100.9L431.9 107.3L418.1 109.2L404.7 111.7L376 110.1L376 20.4Z"/>
<path fill="#fedd89" fill-rule="evenodd" d="M376 20.4L678 20.4L678 102.5L676.5 102.5L644.2 90L622.1 82.4L612.5 74.8L600.7 63.6L595 58.8L581.1 50L573 44.4L567.8 41.6L551.6 43.6L540.6 45.6L523.6 54L513.4 59.6L508.7 66L502.1 73.2L495.2 79.6L486.2 87L468.8 93.2L463.2 95.6L459 97.7L446.8 101.2L431.9 104.7L415.3 106.8L404.7 108.5L376 107L376 20.4Z"/>
<path fill="#fecb7a" fill-rule="evenodd" d="M376 20.4L678 20.4L678 99.3L676.5 99.3L632.5 82.8L622.1 79.5L614.5 73.2L604.2 62.8L596.7 56.4L585.1 49.2L576.9 43.6L567.8 38.4L540.6 41.6L519.4 52.4L513.4 55.6L506.8 64.4L501.2 70.8L494.6 77.2L486.2 84.3L471.7 89.2L459 94.5L444.9 98.8L431.9 102.1L404.7 105.2L376 104L376 20.4Z"/>
<path fill="#fdb667" fill-rule="evenodd" d="M376 20.4L678 20.4L678 96.1L676.5 96.1L670.5 94L635.3 80.4L627.9 78L622.1 76.5L616.6 71.6L607.8 62L600.9 55.6L587.8 47.6L574.9 38.8L567.8 35.6L540.6 38L532 42L513.4 51.6L510.1 55.6L503.7 64.4L500.3 68.4L494 74.8L486.2 81.6L472.1 86L453.3 93.2L443.1 96.4L431.9 99.4L404.7 101.9L376 101L376 20.4Z"/>
<path fill="#fb9e59" fill-rule="evenodd" d="M376 20.4L678 20.4L678 93.3L676.3 93.2L650.6 82.8L639.5 78L631.9 75.6L622.1 73.3L618.2 69.2L611.6 61.2L604.3 54L600.8 51.6L595 48.8L591.8 46.8L580 38L572 34L567.8 32.4L540.6 34.4L529 39.6L513.4 47.6L509.1 52.4L501.7 62.8L498.5 66.8L493.3 72.4L486.2 78.8L472.3 82.8L448.6 91.6L431.9 96.7L404.7 98.6L376 97.8L376 20.4Z"/>
<path fill="#f8854d" fill-rule="evenodd" d="M376 20.4L678 20.4L678 89.9L676.5 89.9L660.6 82.8L649.6 77.2L645.7 75.6L632.4 71.6L622.1 69.2L617.4 62.8L610.8 54.8L606.5 50.8L601 47.6L595 45.4L586.6 38L580.4 34L575.2 31.6L567.8 29.6L540.6 31.2L530.6 34.8L513.4 43.6L509.9 46.8L507.2 50L500.8 59.6L496 66L491.7 70.8L486.2 76L475.1 78.8L467.3 81.2L446.2 89.2L431.9 93.9L404.7 95.4L376 94.3L376 20.4Z"/>
<path fill="#f36e42" fill-rule="evenodd" d="M376 20.4L678 20.4L678 85.7L676.5 85.7L667.7 81.2L660.9 76.4L651.1 71.6L649.9 70.8L647.3 68.4L644.4 66.8L639.2 65.2L634.7 64.4L622.1 63.2L618.3 58L615.4 53.2L613 50L610 46.8L606.8 44.4L601.6 42L595 40L592.4 37.2L588.8 34L586.7 32.4L583.9 30.8L577.4 28.4L567.8 26.6L540.6 28L533.7 30L525.1 33.2L515.9 38L510.9 41.2L506.7 45.2L503.3 50L498.7 58L495.4 62.8L491.5 67.6L486.2 73L474.8 75.6L463.8 78.8L459 80.5L443.7 86.8L431.9 91L404.7 92.2L376 90.3L376 20.4Z"/>
<path fill="#ea5738" fill-rule="evenodd" d="M410.6 20.4L606.4 20.4L606.6 22L605.8 24.4L603.7 26.8L601.1 28.4L599.1 29.2L595 30.4L593.4 28.4L591.2 26.8L589.5 26L586.5 25.2L580.7 24.4L567.8 23.6L540.6 24.7L528.1 27.6L514.1 34L509.2 37.2L505.6 40.4L503.5 42.8L501.5 46L494.6 59.6L490.4 65.2L486.2 69.9L470.2 73.2L459 76.4L442.7 83.6L431.9 87.9L404.7 89.1L391 87.6L386.1 86.8L379.9 85.2L377.5 84.1L376 84.1L376 69.2L377.5 69.2L383.3 54L387.1 40.4L389.5 35.6L392.4 32.4L395.7 30L400.5 27.6L404.7 26L407.6 23.6L410.6 20.4ZM665.2 20.4L678 20.4L678 22.8L676.5 22.8L666.7 21.2L665.2 20.4ZM622 44.4L622.1 44L628.4 46.8L630.4 48.4L630.7 49.2L630.1 50.8L628.4 52.4L625.8 54L622.1 55.6L620.5 49.2L620.9 46.8L622 44.4ZM676 59.6L676.5 59.2L678 59.2L678 79.7L676.5 79.7L674 76.4L669.6 71.6L668.7 70L668.4 68.4L668.7 66.8L670.1 64.4L671.8 62.8L676 59.6Z"/>
<path fill="#df3f2e" fill-rule="evenodd" d="M427.1 20.4L516.3 20.4L516.4 21.2L515.9 23.6L513.4 28.4L512.6 29.2L506.6 32.4L504.2 34L502 36.4L500.2 38.8L498.1 42.8L492.3 58L490.3 61.2L486.2 66.4L470.3 69.2L459 72L431.9 84.4L404.7 86.1L394.5 84.4L391.5 83.6L387.4 82L384.7 80.4L383.3 78.8L382.4 76.4L382.8 74.8L386.1 69.2L398.8 45.2L402 40.4L404.7 37.6L415.1 33.2L420.4 30L422.2 28.4L424.3 26L425.8 23.6L427.1 20.4Z"/>
<path fill="#d02a28" fill-rule="evenodd" d="M458.4 20.4L495.7 20.4L496.8 26L496.9 29.2L494.7 33.2L493.9 35.6L492.9 40.4L492 48.4L490 55.6L488.7 58.8L486.2 62.4L471.9 64.4L459 66.8L454.7 68.4L449.4 70.8L438.6 77.2L431.9 80.5L404.7 83.3L397.6 81.2L395.8 80.4L393.7 78.8L392.6 77.2L392.1 75.6L392.2 74L392.7 72.4L398.1 63.6L404.7 54.8L424.8 46.8L431.9 43.6L451.5 38L455.9 36.4L458.6 34.8L459 34.4L460.4 30.8L461 26.8L460.4 23.6L458.4 20.4Z"/>
<path fill="#bc1627" fill-rule="evenodd" d="M486 39.6L486.2 39.4L487.3 43.6L487.9 47.6L487.5 51.6L486.2 57.2L468.3 58.8L459 60L451.4 60.4L447.1 61.2L444.4 62.8L440.2 67.6L431.9 75.2L416.1 77.2L404.7 79.2L402.6 77.2L401.6 75.6L401.2 74L401.4 72.4L402.2 70.8L404.7 67.2L431.9 59.2L437.5 58.8L440.8 58L445.3 56.4L461.3 53.2L464.2 52.4L467.7 50.8L473.8 46.8L483.7 41.2L486 39.6Z"/>
<path fill="none" stroke="#111" stroke-width="0.7" stroke-linejoin="round" d="M678 105.7L676.5 105.7L666.4 102L641.1 91.6L622.1 85.3L610.5 76.4L595 62.4L575.8 50L567.8 44.4L540.6 49.6L534.1 52.4L524.4 57.2L518.7 60.4L513.4 64L508.3 70L502 76.4L494.8 82.8L486.2 89.7L469.4 95.6L464.2 98L459 100.9L431.9 107.3L418.1 109.2L404.7 111.7L376 110.1M678 102.5L676.5 102.5L644.2 90L622.1 82.4L612.5 74.8L600.7 63.6L595 58.8L581.1 50L573 44.4L567.8 41.6L551.6 43.6L540.6 45.6L523.6 54L513.4 59.6L508.7 66L502.1 73.2L495.2 79.6L486.2 87L468.8 93.2L463.2 95.6L459 97.7L446.8 101.2L431.9 104.7L415.3 106.8L404.7 108.5L376 107M678 99.3L676.5 99.3L632.5 82.8L622.1 79.5L614.5 73.2L604.2 62.8L596.7 56.4L585.1 49.2L576.9 43.6L567.8 38.4L540.6 41.6L519.4 52.4L513.4 55.6L506.8 64.4L501.2 70.8L494.6 77.2L486.2 84.3L471.7 89.2L459 94.5L444.9 98.8L431.9 102.1L404.7 105.2L376 104M678 96.1L676.5 96.1L670.5 94L635.3 80.4L627.9 78L622.1 76.5L616.6 71.6L607.8 62L600.9 55.6L587.8 47.6L574.9 38.8L567.8 35.6L540.6 38L532 42L513.4 51.6L510.1 55.6L503.7 64.4L500.3 68.4L494 74.8L486.2 81.6L472.1 86L453.3 93.2L443.1 96.4L431.9 99.4L404.7 101.9L376 101M678 93.3L676.3 93.2L650.6 82.8L639.5 78L631.9 75.6L622.1 73.3L618.2 69.2L611.6 61.2L604.3 54L600.8 51.6L595 48.8L591.8 46.8L580 38L572 34L567.8 32.4L540.6 34.4L529 39.6L513.4 47.6L509.1 52.4L501.7 62.8L498.5 66.8L493.3 72.4L486.2 78.8L472.3 82.8L448.6 91.6L431.9 96.7L404.7 98.6L376 97.8M678 89.9L676.5 89.9L660.6 82.8L649.6 77.2L645.7 75.6L632.4 71.6L622.1 69.2L617.4 62.8L610.8 54.8L606.5 50.8L601 47.6L595 45.4L586.6 38L580.4 34L575.2 31.6L567.8 29.6L540.6 31.2L530.6 34.8L513.4 43.6L509.9 46.8L507.2 50L500.8 59.6L496 66L491.7 70.8L486.2 76L475.1 78.8L467.3 81.2L446.2 89.2L431.9 93.9L404.7 95.4L376 94.3M678 85.7L676.5 85.7L667.7 81.2L660.9 76.4L651.1 71.6L649.9 70.8L647.3 68.4L644.4 66.8L639.2 65.2L634.7 64.4L622.1 63.2L618.3 58L615.4 53.2L613 50L610 46.8L606.8 44.4L601.6 42L595 40L592.4 37.2L588.8 34L586.7 32.4L583.9 30.8L577.4 28.4L567.8 26.6L540.6 28L533.7 30L525.1 33.2L515.9 38L510.9 41.2L506.7 45.2L503.3 50L498.7 58L495.4 62.8L491.5 67.6L486.2 73L474.8 75.6L463.8 78.8L459 80.5L443.7 86.8L431.9 91L404.7 92.2L376 90.3M606.4 20.4L606.6 22L606.2 23.6L605.3 25.2L603.7 26.8L601.1 28.4L599.1 29.2L595 30.4L593.4 28.4L591.2 26.8L589.5 26L586.5 25.2L580.7 24.4L567.8 23.6L540.6 24.7L528.1 27.6L514.1 34L509.2 37.2L505.6 40.4L503.5 42.8L501.5 46L494.6 59.6L490.4 65.2L486.2 69.9L470.2 73.2L459 76.4L442.7 83.6L431.9 87.9L404.7 89.1L391 87.6L386.1 86.8L379.9 85.2L377.5 84.1L376 84.1M678 22.8L676.5 22.8L666.7 21.2L665.2 20.4M622 44.4L622.1 44L628.4 46.8L630.4 48.4L630.7 49.2L630.1 50.8L628.4 52.4L625.8 54L622.1 55.6L620.5 49.2L620.9 46.8L622 44.4M376 69.2L377.5 69.2L383.3 54L387.1 40.4L389.5 35.6L392.4 32.4L395.7 30L400.5 27.6L404.7 26L407.6 23.6L410.6 20.4M678 79.7L676.5 79.7L674 76.4L669.6 71.6L668.7 70L668.4 68.4L669.1 66L670.9 63.6L676.5 59.2L678 59.2M516.3 20.4L516.2 22.8L513.4 28.4L512.6 29.2L506.6 32.4L504.2 34L502 36.4L500.2 38.8L498.1 42.8L492.3 58L490.3 61.2L486.2 66.4L470.3 69.2L459 72L431.9 84.4L404.7 86.1L394.5 84.4L391.5 83.6L387.4 82L384.7 80.4L383.3 78.8L382.4 76.4L382.8 74.8L386.1 69.2L398.8 45.2L402 40.4L404.7 37.6L415.1 33.2L420.4 30L422.2 28.4L424.3 26L425.8 23.6L427.1 20.4M495.7 20.4L496.8 26L496.9 29.2L494.7 33.2L493.9 35.6L492.9 40.4L492 48.4L490 55.6L488.7 58.8L486.2 62.4L471.9 64.4L459 66.8L454.7 68.4L449.4 70.8L438.6 77.2L431.9 80.5L404.7 83.3L397.6 81.2L394.5 79.6L392.6 77.2L392 74.8L392.7 72.4L397.1 65.2L404.7 54.8L424.8 46.8L431.9 43.6L451.5 38L457.5 35.6L459 34.4L460.6 30L461 27.6L460.9 25.2L460.4 23.6L458.4 20.4M486 39.6L486.2 39.4L487.3 43.6L487.9 47.6L487.5 51.6L486.2 57.2L468.3 58.8L459 60L451.4 60.4L447.1 61.2L444.4 62.8L440.2 67.6L431.9 75.2L416.1 77.2L404.7 79.2L402.6 77.2L401.6 75.6L401.2 74L401.4 72.4L402.2 70.8L404.7 67.2L431.9 59.2L437.5 58.8L440.8 58L445.3 56.4L461.3 53.2L464.2 52.4L467.7 50.8L473.8 46.8L483.7 41.2L486 39.6"/>
<path fill="none" stroke="#111" stroke-width="0.72" stroke-dasharray="6.7 2.4" d="M513.4 100.9L509 106.8L508.1 109.2L508.4 110.8L509.5 112.4L511.6 114L513.4 114.9L518.4 109.2L519.6 106.8L519.8 105.2L519.3 103.6L518.5 102.8L517 102L513.4 100.9M540.6 85.7L535.7 90L529.2 94L525 95.6L521.4 96.4L513.4 97.3L510.2 99.6L500.6 107.6L498.2 110L497.4 111.6L496.8 114.8L497.1 115.6L498.5 116.4L501.4 117.2L513.4 118.6L519.6 115.6L531.4 106L534.4 104.4L540.6 102.1L567.8 103.7L578.4 105.2L586.7 106.8L591.8 108.4L595 109.7L598 107.6L599.3 106L599.5 104.4L599 102.8L595 97.7L583.1 95.6L578.5 94L575.7 92.4L572.3 90L567.8 85.7L540.6 85.7M567.8 78.6L540.6 79.6L533.6 85.2L530.1 87.6L525.5 90L521.6 91.6L513.4 93.9L509.3 97.2L501 102.8L486.9 110.8L486.2 111.3L480.1 120.4L479.1 122.8L479.5 124.4L480.3 125.2L481.8 126L486.2 126.9L497.4 126L513.4 125.1L520.4 118.8L526.6 115.6L534.7 110L540.6 106.9L567.8 107.7L577.7 110L588.8 113.2L595 115.3L603.8 114L608 112.4L609.1 111.6L610 110L610.3 106.8L609.6 105.2L607.2 102.8L600.2 97.2L595 93.7L590.1 92.4L585.5 90.8L579.1 87.6L574.6 84.4L567.8 78.6M678 138L676.4 138L669.4 141.2L666.4 143.6L665.4 146L665.6 147.6L666.1 149.2L667.1 150.8L669.1 153.2L676.5 159.4L678 159.4M376 162.8L377.5 162.8L390.6 158.8L404.7 153.4L408.9 150L410.1 148.4L410.2 147.6L410 146.8L409.4 146L408.2 145.2L404.7 144L385.9 142L377.5 140.6L376 140.6M678 131.1L666.4 131.6L656.7 132.4L648.1 134L645.5 134.8L643.1 136.4L641.9 138.8L641.7 141.2L642.2 143.6L644.1 146.8L649.3 152.6L653.6 156.4L660.1 161.2L666.5 165.2L676.5 170.4L678 170.4M376 173L377.5 173L404.7 167.8L413 161.2L419 157.2L431.9 150.8L434.8 148.4L440.4 145.2L445.4 142.8L449.5 141.2L455.4 139.6L459 139L463.1 137.2L470.1 134.8L482.4 131.6L486.2 131L513.4 129.3L519.7 126L521.7 124.4L525.7 120.4L527.8 118.8L533.7 115.6L540.6 111.3L567.8 111.7L574.4 113.2L580.4 114.8L595 119.7L602.7 120.4L608.4 121.2L611.8 122L614.1 122.8L616.8 124.4L619.4 126.8L622.1 130.1L626.2 129.2L628.9 127.6L629.9 126L630.3 123.6L629.9 121.2L629.2 119.6L626.6 114.8L621.8 106.8L618.3 104.4L600.4 94L595 90L588.7 87.6L582.5 84.4L576.6 80.4L567.8 73.7L540.6 75.4L526.1 85.2L519.7 88.4L513.4 90.6L508.5 94.8L503.9 98L495.5 102.8L486.2 107L483.2 109.2L477.9 114.8L474 118L468.2 121.2L463.9 122.8L431.9 132.6L428.6 134L423.8 135.6L412.6 138L404.7 139L377.5 135.4L376 135.4M678 125.8L669.2 125.2L656.1 123.6L649.3 121.8L642.3 118.8L639.4 117.2L636.2 114.8L630.7 110L626.4 105.2L623.2 102.8L614.6 98.8L604.1 93.2L599.4 90L595 86.4L588.9 83.6L583.3 80.4L567.8 69.6L540.6 71.8L523.2 82.8L518.7 85.2L513.4 87.4L506.7 93.2L500.9 97.2L493.4 101.2L486.2 104.3L483.1 106L478.4 109.2L473.8 113.2L470.5 115.6L466.1 118L462 119.6L442.6 125.2L431.9 127.7L414.8 132.4L404.7 134.6L376 131.4M376 179.1L377.5 179.1L381.2 178L385.6 177.2L404.7 174.6L408.3 173.2L414.5 170L421.4 165.2L425.3 162.8L437.4 156.4L447.9 149.2L451.8 147.6L459 145.4L467.3 141.2L475.3 138L486.2 135L513.4 133L517 131.6L520.8 130L525 127.6L528.2 125.2L534 119.6L540.6 115.7L567.8 114.9L584.7 120.4L598.8 124.4L604.3 126.8L609.1 130L616.8 136.4L625.7 145.2L636.3 157.2L642 162L645.8 164.4L651.9 167.6L668.4 175.6L675.9 178.8L678 179M678 122.5L672.4 122L663.3 120.4L653.8 118L647.4 115.6L637.7 110L632.1 105.2L627.3 102L622.8 99.6L612.1 94.8L606.3 91.6L601.6 88.4L595 82.9L590 80.4L584.6 77.2L567.8 65.8L540.6 68.5L522.4 79.6L513.4 84.3L505.1 91.6L498.1 96.4L493.6 98.8L479.9 105.2L474.7 108.4L466.9 114L462.3 116.4L459 117.7L447.6 120.4L432.4 124.4L404.7 131L376 128.1M397.9 181.2L402.4 179.6L415.4 176.4L419.7 174.8L425.3 171.6L431.9 167L440.8 163.6L445.6 161.2L450.1 158L459 150.6L469 146.8L475.9 142.8L479.6 141.2L486.2 139L507 138L513.4 137L514.3 136.4L516.3 135.6L523.3 133.2L529.6 130L534 126.8L540.6 120.1L567.8 118.9L582.1 123.6L588.2 126L597.7 130.8L603.8 134.8L607.7 138.8L611.3 143.6L614.5 149.2L618.9 158L620.9 161.2L624.8 166L628.5 169.2L631.4 170.8L635.5 172.4L641.6 174L649.3 175.4L655.1 178.8L660.1 181.2M678 119.7L676.5 119.7L671.5 118.8L661.6 116.4L649.3 112.1L644.7 110L642 108.4L636.6 104.4L630 100.4L615.6 94L608.3 90L602.7 86L595 79.5L585.5 74L567.8 62.2L540.6 65.3L519.2 78L513.4 81.1L503.5 90L496.8 94.8L490.9 98L476.7 104.4L472.5 106.8L463.9 112.4L459 114.9L404.7 127.7L376 124.9M485.5 144.4L486.2 143.8L488.6 144.4L493.2 146L496.4 147.6L499.2 150L499.9 151.6L499.8 152.4L498.4 154L495.3 155.6L486.2 158L480.5 155.6L478.5 154L478 153.2L477.9 151.6L479 150L485.5 144.4M424.9 181.2L431.9 177.4L450.4 170L459 165.4L465.7 166.8L471 168.4L480.1 171.6L486.2 174.2L503.3 170.8L513.4 168.2L514.9 163.6L517.5 152.4L519.1 147.6L520.6 144.4L522.2 142L526.5 137.2L527.5 136.4L535.2 132.4L538.5 130L540.6 128.1L553.4 125.2L567.8 123.3L578.5 127.6L593 135.6L595 137.2L596.1 138.8L598.6 142.8L600.6 146.8L601.9 151.6L601.5 155.6L600.7 158L599.2 160.4L595 165.4L590.4 181.2M678 116.9L676.5 116.9L667.9 114.8L649.3 108.9L634.1 99.6L629 97.2L620.6 94L615.6 91.6L607.8 86.8L595 76.1L586.2 70.8L567.8 58.7L540.6 62.3L532.2 66.8L513.4 78L500.9 89.2L494.3 94L488.3 97.2L480.3 100.4L473.5 103.6L459 112.1L431.9 118.5L418.9 121.2L404.7 124.5L376 121.7M455.7 181.2L459 179.7L462.8 181.2M518.4 181.2L521.3 174.8L523.7 168.4L527.6 154.8L529.4 150L532.1 145.2L535.4 141.2L540.6 136.6L567.8 129L576.6 134.8L580.3 138L584.6 143.6L586.3 146.8L587.2 149.2L587.5 151.6L587.1 154.8L584 163.6L581.3 174.8L579.5 181.2M678 114.1L676.5 114.1L670.3 112.4L659.7 109.2L653 106.8L649.3 105.3L639.7 99.6L635 97.2L629.1 94.8L622.1 92.5L617.1 90L613.2 87.6L609.8 85.2L601.9 78.8L595 72.8L567.8 55.2L540.6 59.2L538.1 60.4L529.2 65.2L513.4 74.7L502.2 85.2L496.4 90L491.8 93.2L486.2 96.2L479 98.8L471.9 102L467.3 104.4L459 109.3L431.9 115.7L416.1 118.8L404.7 121.3L376 118.9M529 181.2L532.5 173.2L537.5 157.2L540.6 150L556.3 146L563.3 143.6L567.8 141.6L570.4 146L571.9 149.2L572.9 152.4L573.2 154.8L571.4 170.8L570.2 176.4L568.6 181.2M678 111.3L676.5 111.3L666.7 108.4L649.3 102.1L644.1 98.8L637.6 95.6L631.3 93.2L622.1 90.3L620.1 89.2L615 86L608.7 81.2L595 69.4L567.8 51.7L540.6 56.1L533.2 59.6L526 63.6L513.4 71.4L507.7 77.2L501.5 82.8L492.9 90L489.4 92.4L486.2 94.2L477.5 97.2L471.8 99.6L465.4 102.8L459 106.5L443.3 110L431.9 112.9L404.7 118.1L376 115.7M539.7 181.2L540.6 179.4L542.8 181.2M678 108.5L676.5 108.5L666.4 105.2L649.3 98.5L643.9 95.6L638.3 93.2L622.1 87.9L618 85.2L609.6 78.8L595 65.9L567.8 48L553.1 50.8L540.6 52.8L528.1 58.8L523.8 61.2L513.4 67.8L507.7 74L501.8 79.6L493.4 86.8L487 91.6L486.2 92.1L477.9 94.8L471.7 97.2L466.5 99.6L459 103.7L442.4 107.6L404.7 114.9L376 112.9"/>
</g>
<rect x="377.5" y="21.4" width="299.0" height="158.9" fill="none" stroke="#000" stroke-width="1"/>
<path fill="none" stroke="#222" stroke-width="0.9" d="M377.5 180.3V187.1M404.7 180.3V187.1M431.9 180.3V187.1M459 180.3V187.1M486.2 180.3V187.1M513.4 180.3V187.1M540.6 180.3V187.1M567.8 180.3V187.1M595 180.3V187.1M622.1 180.3V187.1M649.3 180.3V187.1M676.5 180.3V187.1M377.5 177H374.3M676.5 177H679.7M377.5 169H374.3M676.5 169H679.7M377.5 161H371M676.5 161H683M377.5 153H374.3M676.5 153H679.7M377.5 145H374.3M676.5 145H679.7M377.5 137H374.3M676.5 137H679.7M377.5 128.9H374.3M676.5 128.9H679.7M377.5 120.9H371M676.5 120.9H683M377.5 112.9H374.3M676.5 112.9H679.7M377.5 104.9H374.3M676.5 104.9H679.7M377.5 96.9H374.3M676.5 96.9H679.7M377.5 88.9H374.3M676.5 88.9H679.7M377.5 80.9H371M676.5 80.9H683M377.5 72.9H374.3M676.5 72.9H679.7M377.5 64.8H374.3M676.5 64.8H679.7M377.5 56.8H374.3M676.5 56.8H679.7M377.5 48.8H374.3M676.5 48.8H679.7M377.5 40.8H371M676.5 40.8H683M377.5 32.8H374.3M676.5 32.8H679.7M377.5 24.8H374.3M676.5 24.8H679.7"/>
<text x="377.5" y="202.7" text-anchor="middle" class="tl">Jan</text>
<text x="404.7" y="202.7" text-anchor="middle" class="tl">Feb</text>
<text x="431.9" y="202.7" text-anchor="middle" class="tl">Mar</text>
<text x="459" y="202.7" text-anchor="middle" class="tl">Apr</text>
<text x="486.2" y="202.7" text-anchor="middle" class="tl">May</text>
<text x="513.4" y="202.7" text-anchor="middle" class="tl">Jun</text>
<text x="540.6" y="202.7" text-anchor="middle" class="tl">Jul</text>
<text x="567.8" y="202.7" text-anchor="middle" class="tl">Aug</text>
<text x="595" y="202.7" text-anchor="middle" class="tl">Sep</text>
<text x="622.1" y="202.7" text-anchor="middle" class="tl">Oct</text>
<text x="649.3" y="202.7" text-anchor="middle" class="tl">Nov</text>
<text x="676.5" y="202.7" text-anchor="middle" class="tl">Dec</text>
<text x="364.2" y="165.3" text-anchor="end" class="tl">0</text>
<text x="364.2" y="125.2" text-anchor="end" class="tl">10N</text>
<text x="364.2" y="85.2" text-anchor="end" class="tl">20N</text>
<text x="364.2" y="45.1" text-anchor="end" class="tl">30N</text>
<text x="379.3" y="13.1" class="tg">(b)</text>
<text x="671.3" y="14.7" text-anchor="end" class="tt">HiRAM ObsSST</text>
<clipPath id="clip_c"><rect x="31.5" y="241.5" width="298.7" height="158.8"/></clipPath>
<g clip-path="url(#clip_c)">
<rect x="30.5" y="240.5" width="300.7" height="160.8" fill="#313695"/>
<path fill="#394ea1" fill-rule="evenodd" d="M30 240.5L331.7 240.5L331.7 401.3L30 401.3L30 240.5ZM221.6 299.6L213 302.1L194.4 306.6L189.4 312.5L187.8 314.9L187.4 317.3L187.9 318.9L190.3 321.3L194.4 323.6L201.7 319.7L208 317.3L211.4 316.5L221.6 314.9L226.1 310.9L227.2 309.3L227.7 307.7L227.5 306.1L226.5 304.5L221.6 299.6Z"/>
<path fill="#4067ad" fill-rule="evenodd" d="M30 240.5L331.7 240.5L331.7 401.3L30 401.3L30 240.5ZM221.6 295.4L204.6 299.7L194.4 301.9L181.1 314.9L179.7 318.1L179.7 319.7L180.1 320.5L181.7 322.1L184.3 323.7L186.5 324.5L194.4 326.2L200.2 324.5L207.9 321.3L212.5 319.7L221.6 317.5L226.5 315.7L228 314.9L230.7 312.5L232.9 310.1L233.9 307.7L233.6 306.1L232 303.7L229.6 301.3L225.6 298.1L221.6 295.4Z"/>
<path fill="#4c7db8" fill-rule="evenodd" d="M30 240.5L331.7 240.5L331.7 401.3L30 401.3L30 240.5ZM221.6 292.2L194.4 298.4L189.8 302.1L181.9 309.3L174.5 314.9L171.3 318.9L170.9 320.5L171.2 321.3L173.9 323.7L177.7 325.3L183.6 326.9L194.4 328.8L225.3 318.9L233.1 315.7L236.1 313.3L239 310.1L240.1 307.7L239.8 306.1L238.2 303.7L234.7 300.5L227.9 295.7L221.6 292.2Z"/>
<path fill="#5e93c4" fill-rule="evenodd" d="M30 240.5L331.7 240.5L331.7 401.3L30 401.3L30 240.5ZM85.8 355.4L58.7 367.4L55 369.3L52.4 370.9L50.6 372.5L49.7 374.1L50.2 375.7L51 376.5L53.5 378.1L58.7 380.2L75.3 382.9L85.8 385L91.5 372.5L92.3 369.3L92.7 366.1L92.1 362.9L90.9 360.5L88.9 358.1L85.8 355.4ZM221.6 289.6L194.4 295.4L188.4 299.7L176.7 309.3L167.3 315.3L165.2 318.1L164.4 319.7L164.2 321.3L165.1 323.7L167.3 326.2L171.5 327.7L183.9 330.1L194.4 331.4L229 320.5L235.1 318.1L239.7 315.7L243.8 311.7L246.1 308.5L246.2 306.9L245 304.5L242 301.3L233.6 295.7L228 292.5L221.6 289.6Z"/>
<path fill="#70a9cf" fill-rule="evenodd" d="M30 240.5L331.7 240.5L331.7 363.3L330.2 363.3L329.1 364.5L327.7 366.9L327.2 369.3L328 372.5L330.1 376.5L330.2 376.7L331.7 376.7L331.7 401.3L30 401.3L30 388.6L58.7 389.4L85.8 390.5L91.6 386.1L97.1 378.1L101.8 372.5L104.5 366.1L105.2 361.3L104.9 358.1L104 355.7L102.9 354.1L101.1 352.5L96.2 350.1L90.6 348.5L85.8 347.6L64.1 353.3L36.6 361.3L31.5 363.3L30 363.3L30 240.5ZM221.6 287.1L194.4 292.7L189.6 295.7L185.1 298.9L175 306.9L167.3 311.8L163.2 314.9L159.9 318.9L158.8 321.3L158.9 323.7L160.3 326.9L162.1 328.5L163.4 329.3L167.3 331L176.7 332.5L194.4 334L221.6 325.3L233.3 322.1L239.6 319.7L244.1 317.3L246.3 315.7L250.4 311.7L252 309.3L252.1 307.7L251.6 306.1L248.9 302.1L247 300.5L233.9 292.5L227.3 289.3L221.6 287.1Z"/>
<path fill="#85bbd8" fill-rule="evenodd" d="M30 240.5L331.7 240.5L331.7 356.3L330.2 356.3L326 357.3L323.4 358.1L319.7 359.7L318.5 360.5L317 362.1L316.4 363.7L316.3 365.3L316.6 367.7L317.5 370.1L322 377.3L323.8 378.9L330.2 383.1L331.7 383.1L331.7 401.3L30 401.3L30 392.9L58.7 393.7L85.8 395.5L89 393.3L97.3 386.9L105.3 378.1L111.3 373.3L112.8 371.7L117.2 358.1L118.7 349.3L118.4 347.7L117.2 346.1L115.2 344.5L113 343.4L98.6 342.9L85.8 342.8L62 347.7L31.5 354.5L30 354.5L30 240.5ZM221.6 284.8L194.4 290.1L186.3 294.9L181.8 298.1L173.6 304.5L159.7 314.1L155.8 318.1L154 320.5L152.8 323.7L152.6 327.7L153.7 330.1L155.1 331.7L157.5 333.3L162.2 334.9L166.6 335.7L194.4 336.7L221.6 327.9L229.8 326.1L238.2 323.7L244.7 321.3L248.7 319.2L252.1 318.1L255.1 316.5L256.9 314.9L257.9 313.3L258.5 311.7L258.5 310.1L257.4 306.9L252.9 301.3L248.7 298.1L236.9 290.9L230 287.7L221.6 284.8Z"/>
<path fill="#9acbe2" fill-rule="evenodd" d="M30 240.5L331.7 240.5L331.7 348L303 348.2L302.1 351.7L301.7 355.7L302 358.9L303.1 363.7L305.2 366.9L312.8 376.5L315.1 378.9L321.4 383.7L328.2 390.9L330.2 392.4L331.7 392.4L331.7 401.3L30 401.3L30 397.2L58.7 397.2L85.8 399L91.2 396.5L95 394.1L103.8 386.9L115.7 375.7L118.1 372.5L121.9 364.5L124.6 359.7L127.4 355.7L129.5 353.3L133 350.9L144.3 345.3L151.1 342.9L159.7 341.3L181.3 339.7L194.4 339.3L221.6 330.6L235.5 327.7L244 325.3L248.7 323.6L256.7 322.9L261.6 322.1L264.5 321.3L266.1 320.5L267 319.7L267.6 318.9L267.9 317.3L267.7 314.9L267.1 312.5L266.1 310.9L262.8 306.9L257.5 301.3L251.6 296.5L245.7 292.5L238.4 288.5L230.7 285.3L221.6 282.5L194.4 287.6L185.5 292.5L179.5 296.5L170.3 303.7L155.3 314.1L148.8 320.5L143.6 328.5L141.6 330.9L139.8 332.5L136.1 334.1L128.5 335.7L113 337.1L98.2 338.9L85.8 339.7L80 340.5L46.2 346.1L31.5 349.1L30 349.1L30 240.5Z"/>
<path fill="#afdbea" fill-rule="evenodd" d="M30 240.5L331.7 240.5L331.7 343.2L327 342.9L313.8 341.3L303 339.3L299.9 340.5L296.5 342.9L295 345.3L294.5 347.7L294.8 354.9L296.1 360.5L298.7 367.7L300.8 371.7L303 375.2L306.4 378.9L312.6 384.5L320.2 392.5L322.8 394.1L326.7 395.7L330.2 396.8L331.7 396.8L331.7 401.3L237.3 401.3L221.6 394.6L207.9 393.3L202.5 392.5L194.4 390.5L191.5 391.7L185.6 393.3L174.3 394.9L167.3 395.5L160.1 401.3L90.6 401.3L101 394.9L115.8 382.1L122.7 374.1L127.5 366.1L131.1 361.3L136 356.5L140.1 353.7L164.1 346.1L175.6 343.7L181.3 342.9L194.4 341.7L221.6 333.2L235.3 330.9L242.4 329.3L248.7 327.5L260.8 328.5L266.2 329.3L272.6 330.9L275.9 332.3L277.1 331.7L279 330.1L280 327.7L280 323.7L278.6 318.1L275.9 312.5L270.1 308.5L256.7 296.5L250.2 291.7L244.9 288.5L238 285.3L231.3 282.9L221.6 280.2L194.4 285.1L189.1 287.7L178.5 294.1L167.3 302.7L152 313.3L145.4 318.9L140.1 324L135.2 326.9L129.5 329.3L121.1 331.7L103.2 334.9L91.5 336.5L69.7 338.9L31.5 344.3L30 344.3L30 240.5Z"/>
<path fill="#c3e5f0" fill-rule="evenodd" d="M30 240.5L331.7 240.5L331.7 338.8L330.2 338.8L319.7 337.3L312.3 335.7L307.2 334.1L303 332.3L297.6 330.9L293.7 329.3L290.1 326.9L287.8 324.5L285.7 321.3L282.6 314.9L280.6 311.7L268.4 302.9L261 295.7L255.8 291.7L248.7 287L241.7 283.7L232.1 280.5L221.6 277.9L194.4 282.5L188.4 285.3L182.6 288.5L175 293.3L167.3 299.2L148.7 312.5L140.1 319.2L129.6 324.5L123.6 326.9L118.1 328.5L107.3 330.9L88.7 334.1L63.6 336.5L31.5 340.6L30 340.6L30 240.5ZM247.5 331.7L248.7 331.4L255.1 332.5L264.9 334.9L278 339.7L279.9 340.5L282.3 342.1L283.7 343.7L285 346.1L286.5 350.1L289.2 358.9L295.1 373.3L297 377.3L299.8 381.3L306.8 388.5L310.9 393.3L314 395.7L317.1 397.3L321.8 398.9L325.5 399.7L331.7 400.4L331.7 401.3L266.8 401.3L263.3 399.7L258.7 398.1L238.3 392.5L221.6 387L204.9 383.7L194.4 381.1L167.3 387.9L162.9 390.9L154.6 397.3L147.8 401.3L99.5 401.3L107.2 395.7L113 390.5L116.3 388.5L119.2 386.1L123.3 381.3L127.9 374.9L130.8 370.1L135.3 364.5L140.1 360L145.5 357.3L156.3 353.3L172.7 348.5L183.2 346.1L194.4 344.3L221.6 335.8L233.9 334.1L247.5 331.7Z"/>
<path fill="#d6eef6" fill-rule="evenodd" d="M30 240.5L331.7 240.5L331.7 335.8L330.2 335.8L325.1 334.9L315.2 332.5L300.2 326.9L296.7 325.3L294.4 323.7L291.8 321.3L286.5 312.5L285.1 310.9L280.8 307.7L275.9 304.9L273.1 302.9L271.2 301.3L265.3 294.9L261.4 291.7L255.8 287.7L248.7 283.3L243.9 281.3L233.3 278.1L221.6 275.6L209.4 277.3L194.4 279.8L187.5 282.9L181.4 286.1L172.7 291.7L153.8 305.3L140.1 315.7L125.9 322.1L117.5 325.3L113 326.6L107.9 327.7L85.8 331.9L58.7 333.6L30 336.7L30 240.5ZM244.3 335.7L248.7 334.9L254.7 336.5L261.9 338.9L270.5 342.9L274.2 345.3L276.8 347.7L279.9 352.5L285.5 364.5L287.1 368.5L290.4 381.3L291.8 386.1L293.2 389.3L293.1 390.9L292.3 391.7L290.9 392.5L288.1 393.3L282.7 394.1L275.9 394.6L248.7 389.6L221.6 381.1L194.4 375L166.6 380.5L163.3 382.1L159.9 384.5L146.5 395.7L140.1 399.3L135.4 399.7L130.7 400.5L128.6 401.3L108.5 401.3L113 397.2L117.5 396.5L119.9 395.7L122.4 394.1L124 392.5L126.2 389.3L129.9 381.3L134.9 372.5L136.6 370.1L140.1 366.3L145.9 363.7L156.3 358.1L160.6 356.5L178.2 350.9L184.3 349.3L194.4 347.3L204.8 343.7L221.6 338.4L232.9 337.3L244.3 335.7ZM303 400.5L303.3 401.3L302.8 401.3L303 400.5Z"/>
<path fill="#e8f0e1" fill-rule="evenodd" d="M30 240.5L331.7 240.5L331.7 333.2L330.2 333.2L320.9 330.9L303 324.5L300.1 322.9L297.1 320.5L295.3 318.1L291.2 311.7L287.8 308.5L282 304.5L275.9 301.4L271.4 295.7L267 291.7L258.2 285.3L248.7 279.6L241.7 277.3L235.5 275.7L221.6 273.1L194.4 277L184.8 281.3L177.2 285.3L162.1 295.7L150.1 304.5L140.1 312.3L121.3 320.5L113 323.6L85.8 329.3L58.7 330.6L30 333.2L30 240.5ZM242.8 339.7L248.7 339.1L257.3 342.1L262.1 344.5L264.7 346.1L267.8 348.5L271.5 352.5L275.9 358L279.2 363.7L280.6 366.9L281.3 369.3L281.7 374.1L281.4 378.9L280.4 382.9L278.6 386.1L275.9 388.7L266.5 386.1L256.3 384.5L248.7 383.7L224.1 375.7L207 371.7L194.4 368.3L180.4 370.9L167.3 374.1L156.1 374.9L153.3 375.7L151.8 376.5L150.2 378.1L146.9 384.5L140.1 392.4L138.4 390.9L136.9 388.5L136.1 385.3L136.4 382.1L137.5 378.9L140.1 373.3L147.8 372.5L150.4 371.7L151.9 370.9L159.2 364.5L167.3 358.9L177.5 355.7L185 352.5L200.3 348.5L213.4 343.7L221.6 341.2L242.8 339.7Z"/>
<path fill="#f5e8b2" fill-rule="evenodd" d="M30 240.5L331.7 240.5L331.7 330.5L330.2 330.5L326.5 329.3L312.5 323.7L303 320.5L300.8 318.1L295.8 310.9L290.9 306.1L282.5 300.5L271.7 290.9L266.5 286.9L255.7 279.7L248.7 275.7L243.7 274.1L236.8 272.5L221.6 270.4L208.9 271.7L194.4 273.9L183.4 278.9L176.9 282.1L171.7 285.3L167.3 288.7L159.1 294.1L152.5 298.9L145.3 304.5L140.1 309L113 320.5L99.4 322.9L85.8 326.2L58.7 328.4L43.3 329.3L30 330.5L30 240.5ZM234.3 343.7L248.7 343.4L252.7 345.3L256.7 347.7L259.5 350.1L263.1 354.1L268.4 362.1L272.6 367.7L273.2 369.3L272.6 370.9L271 372.5L269.6 373.3L264.4 374.9L259.7 375.7L248.7 376.7L238.1 373.3L221.6 369.1L200.6 362.9L195.9 361.3L192.4 359.7L191.3 358.9L190.7 358.1L190.8 357.3L191.3 356.5L193.9 354.1L195.2 353.3L206.3 350.1L215.5 346.1L221.6 343.9L234.3 343.7Z"/>
<path fill="#fedd89" fill-rule="evenodd" d="M30 240.5L331.7 240.5L331.7 326.6L330.2 326.6L303 313.6L300 309.3L297.3 306.1L290.5 300.5L283.7 294.1L280.1 291.7L275.9 289.6L268.2 283.7L249.6 270.9L248.7 270.4L221.6 265.7L210.4 267.7L194.4 269.6L187.1 274.1L175.2 279.7L169.5 282.9L162.1 288.5L150.6 296.5L140.1 304.9L133 308.5L113 317.1L96.5 319.7L85.8 321.9L71.1 323.7L58.7 324.9L30 325.8L30 240.5ZM221.4 347.7L248.7 349.3L252.7 353.3L255 356.5L256.1 359.7L256.1 361.3L255.7 362.9L254.7 364.5L253 366.1L248.7 368.5L238.2 365.3L221.6 361.1L213.5 358.1L211 356.5L210.6 355.7L210.7 354.9L211.2 354.1L211.9 353.3L217.8 350.1L221.4 347.7Z"/>
<path fill="#fecb7a" fill-rule="evenodd" d="M30 240.5L331.7 240.5L331.7 319.2L330.2 319.2L322.4 314.1L315.2 310.1L309.8 307.7L303 305.3L296.9 298.9L292.8 294.1L289.2 290.9L283.8 287.7L275.9 284.8L270.2 280.5L260.1 271.7L255.1 268.5L248.7 265.6L235.8 263.7L221.6 262.2L194.4 266.5L190 268.5L181.6 273.3L170.2 278.9L165.9 281.3L156.5 288.5L147.5 294.9L140.1 300.7L126.6 307.7L113 313.6L97.2 315.7L71.9 319.7L58.7 321.4L30 320.5L30 240.5Z"/>
<path fill="#fdb667" fill-rule="evenodd" d="M30 240.5L331.7 240.5L331.7 273.5L330.2 273.5L322.7 279.7L320.1 282.9L319.5 284.5L319.3 286.1L319.6 287.7L320.4 289.3L322 290.9L323.3 291.7L325.3 292.5L328.7 293.3L331.7 293.5L331.7 304.9L330.2 304.9L324.2 302.1L313 298.1L310.3 297.3L303 296.1L299.1 290.1L296.9 287.7L295 286.1L292.4 284.5L288.7 282.9L275.9 279.6L270 272.5L266.6 269.3L261.8 266.1L256.8 263.7L248.7 260.9L237.2 259.7L221.6 258.7L194.4 263.5L190 265.3L181.8 269.3L162.3 279.7L159 282.1L154.2 286.1L140.1 296.6L127 303.7L113 310.1L85.8 313.6L58.7 317.9L30 315.7L30 240.5Z"/>
<path fill="#fb9e59" fill-rule="evenodd" d="M30 240.5L331.7 240.5L331.7 259.6L329.9 259.7L323.7 262.9L303 276.5L293.3 273.3L275.9 268.3L271.8 264.5L266.5 261.3L258.7 258.1L248.7 255.2L221.6 255.2L194.4 260.4L189.3 262.1L185.6 263.7L169.3 272.5L160.7 276.5L155.9 279.7L149.8 285.3L140.1 292.4L125.9 300.5L113 306.6L85.8 310.1L58.7 314.4L48.3 313.3L31.5 310.5L30 310.5L30 240.5Z"/>
<path fill="#f8854d" fill-rule="evenodd" d="M30 240.5L331.7 240.5L331.7 255.2L330.2 255.2L322.6 256.5L315.4 258.1L311.1 259.7L303 263.9L281.1 258.1L275.9 256.5L269.9 254.1L264.7 252.5L258.3 250.9L250 249.3L248.7 249.1L221.6 250.8L194.4 256.9L187.5 258.9L181.5 261.3L177.3 263.7L171.8 267.7L167.3 270L160 272.5L155.5 274.9L150.4 278.9L144.4 285.3L140.1 288.3L135.1 290.9L123.2 298.1L113 303.1L85.8 306.6L58.7 311L42.5 308.5L35.3 306.9L31.5 305.7L30 305.7L30 288.3L31.5 288.3L32.5 286.1L34.3 281.3L34.9 277.3L34.5 273.3L33.1 269.3L31.5 266.1L30 266.1L30 240.5Z"/>
<path fill="#f36e42" fill-rule="evenodd" d="M30 240.5L331.7 240.5L331.7 249.1L330.2 249.1L320.6 250.9L303 254.8L288.2 250.9L275.9 246.9L270.4 246.1L248.7 243.8L221.6 243.4L207.1 246.9L201.5 248.5L193.2 251.7L182.7 254.9L177.3 257.3L174.4 258.9L171.3 261.3L167.3 266.1L155.8 269.3L151 271.7L148.8 273.3L146.3 275.7L140.1 284.1L131 288.5L118.9 296.5L113 299.6L85.8 303.1L71.7 304.5L63.2 306.1L58.7 307.4L50.9 304.5L46.1 302.1L42.7 299.7L41.5 298.1L41.3 297.3L41.5 295.7L44.5 289.3L46 282.1L46.4 276.5L45.7 270.9L44.3 265.3L42.9 262.9L41.6 261.3L38.6 258.9L35.9 257.3L31.5 255.2L30 255.2L30 240.5Z"/>
<path fill="#ea5738" fill-rule="evenodd" d="M30 240.5L172.2 240.5L171.4 242.1L170.1 243.7L160.8 253.3L157.2 256.5L142 268.5L136.8 276.5L132.5 281.3L128.8 284.5L123.4 287.7L113 295.7L85.8 298.8L73.3 298.1L66.3 297.3L62.8 296.5L60.8 295.7L59.6 294.9L58.7 293.5L58.2 290.1L57.5 265.3L57 260.5L56.2 258.1L54.5 255.7L52.7 254.1L48.4 251.7L43.9 250.1L31.5 246.5L30 246.5L30 240.5ZM285.5 240.5L331.7 240.5L331.7 243.4L316.1 244.5L310.2 245.3L303 246.9L294 242.9L289 241.3L285.5 240.5Z"/>
<path fill="#df3f2e" fill-rule="evenodd" d="M59.4 240.5L136.6 240.5L136.6 242.1L136.1 246.9L134.9 251.7L129.3 266.9L124.8 276.5L122.6 279.7L119.6 282.9L113 289.2L97.1 290.9L85.8 292.4L82.3 290.9L78.5 288.5L76 286.1L73.8 282.9L72.7 280.5L71.8 277.3L70.5 270.1L69 258.9L67.7 254.1L66 250.1L64.3 246.9L62.1 243.7L59.4 240.5Z"/>
<path fill="#d02a28" fill-rule="evenodd" d="M75.9 240.5L119.1 240.5L118.7 249.3L117.1 262.1L115.6 268.5L113 276.1L85.8 277L82.7 267.7L78.9 250.9L75.9 240.5Z"/>
<path fill="none" stroke="#111" stroke-width="0.7" stroke-linejoin="round" d="M331.7 330.5L330.2 330.5L326.5 329.3L312.5 323.7L303 320.5L300.8 318.1L295.8 310.9L290.9 306.1L282.5 300.5L271.7 290.9L266.5 286.9L255.7 279.7L248.7 275.7L243.7 274.1L236.8 272.5L221.6 270.4L208.9 271.7L194.4 273.9L183.4 278.9L176.9 282.1L171.7 285.3L167.3 288.7L159.1 294.1L152.5 298.9L145.3 304.5L140.1 309L113 320.5L99.4 322.9L85.8 326.2L58.7 328.4L43.3 329.3L30 330.5M234.3 343.7L248.7 343.4L252.7 345.3L256.7 347.7L259.5 350.1L263.1 354.1L268.4 362.1L272.6 367.7L273.2 369.3L272.6 370.9L271 372.5L269.6 373.3L264.4 374.9L259.7 375.7L248.7 376.7L238.1 373.3L221.6 369.1L200.6 362.9L195.9 361.3L192.4 359.7L191.3 358.9L190.7 358.1L190.8 357.3L191.3 356.5L193.9 354.1L195.2 353.3L206.3 350.1L215.5 346.1L221.6 343.9L234.3 343.7M331.7 326.6L330.2 326.6L303 313.6L300 309.3L297.3 306.1L290.5 300.5L283.7 294.1L280.1 291.7L275.9 289.6L268.2 283.7L249.6 270.9L248.7 270.4L221.6 265.7L210.4 267.7L194.4 269.6L187.1 274.1L175.2 279.7L169.5 282.9L162.1 288.5L150.6 296.5L140.1 304.9L133 308.5L113 317.1L96.5 319.7L85.8 321.9L71.1 323.7L58.7 324.9L30 325.8M221.4 347.7L248.7 349.3L252.7 353.3L255 356.5L256.1 359.7L256.1 361.3L255.7 362.9L254.7 364.5L253 366.1L248.7 368.5L238.2 365.3L221.6 361.1L213.5 358.1L211 356.5L210.6 355.7L210.7 354.9L211.2 354.1L211.9 353.3L217.8 350.1L221.4 347.7M331.7 319.2L330.2 319.2L322.4 314.1L315.2 310.1L309.8 307.7L303 305.3L296.9 298.9L292.8 294.1L289.2 290.9L283.8 287.7L275.9 284.8L270.2 280.5L260.1 271.7L255.1 268.5L248.7 265.6L235.8 263.7L221.6 262.2L194.4 266.5L190 268.5L181.6 273.3L170.2 278.9L165.9 281.3L156.5 288.5L147.5 294.9L140.1 300.7L126.6 307.7L113 313.6L97.2 315.7L71.9 319.7L58.7 321.4L30 320.5M331.7 273.5L330.2 273.5L322.7 279.7L320.1 282.9L319.5 284.5L319.3 286.1L319.6 287.7L320.4 289.3L322 290.9L323.3 291.7L325.3 292.5L328.7 293.3L331.7 293.5M331.7 304.9L330.2 304.9L324.2 302.1L313 298.1L310.3 297.3L303 296.1L299.1 290.1L296.9 287.7L295 286.1L292.4 284.5L288.7 282.9L275.9 279.6L270 272.5L266.6 269.3L261.8 266.1L256.8 263.7L248.7 260.9L237.2 259.7L221.6 258.7L194.4 263.5L190 265.3L181.8 269.3L162.3 279.7L159 282.1L154.2 286.1L140.1 296.6L127 303.7L113 310.1L85.8 313.6L58.7 317.9L30 315.7M331.7 259.6L329.9 259.7L323.7 262.9L303 276.5L293.3 273.3L275.9 268.3L271.8 264.5L266.5 261.3L258.7 258.1L250.8 255.7L248.7 255.2L221.6 255.2L194.4 260.4L189.3 262.1L185.6 263.7L170.8 271.7L162.2 275.7L159.4 277.3L154.9 280.5L149.8 285.3L140.1 292.4L125.9 300.5L113 306.6L85.8 310.1L58.7 314.4L48.3 313.3L31.5 310.5L30 310.5M331.7 255.2L330.2 255.2L322.6 256.5L315.4 258.1L311.1 259.7L303 263.9L281.1 258.1L275.9 256.5L269.9 254.1L264.7 252.5L258.3 250.9L250 249.3L248.7 249.1L221.6 250.8L194.4 256.9L187.5 258.9L181.5 261.3L177.3 263.7L171.8 267.7L167.3 270L160 272.5L155.5 274.9L150.4 278.9L144.4 285.3L140.1 288.3L135.1 290.9L123.2 298.1L113 303.1L85.8 306.6L58.7 311L42.5 308.5L35.3 306.9L31.5 305.7L30 305.7M30 288.3L31.5 288.3L32.5 286.1L34.3 281.3L34.9 277.3L34.5 273.3L33.1 269.3L31.5 266.1L30 266.1M331.7 249.1L330.2 249.1L320.6 250.9L303 254.8L288.2 250.9L275.9 246.9L270.4 246.1L248.7 243.8L221.6 243.4L207.1 246.9L201.5 248.5L193.2 251.7L182.7 254.9L177.3 257.3L174.4 258.9L171.3 261.3L167.3 266.1L155.8 269.3L151 271.7L148.8 273.3L146.3 275.7L140.1 284.1L131 288.5L118.9 296.5L113 299.6L85.8 303.1L71.7 304.5L63.2 306.1L58.7 307.4L50.9 304.5L46.1 302.1L42.7 299.7L41.5 298.1L41.3 297.3L41.5 295.7L44.5 289.3L46.2 280.5L46.2 274.1L45 267.7L43.5 263.7L40.7 260.5L37.4 258.1L34.4 256.5L31.5 255.2L30 255.2M172.2 240.5L171.4 242.1L170.1 243.7L160.8 253.3L157.2 256.5L142 268.5L136.8 276.5L132.5 281.3L128.8 284.5L123.4 287.7L113 295.7L85.8 298.8L73.3 298.1L66.3 297.3L62.8 296.5L60.8 295.7L59.6 294.9L58.7 293.5L58.1 289.3L57.3 262.9L56.8 259.7L55.7 257.3L54.5 255.7L52.7 254.1L48.4 251.7L43.9 250.1L31.5 246.5L30 246.5M331.7 243.4L316.1 244.5L310.2 245.3L303 246.9L294 242.9L289 241.3L285.5 240.5M136.6 240.5L136.4 244.5L135.5 249.3L133.8 254.9L130.9 262.9L127.2 271.7L125.3 275.7L123.2 278.9L120.4 282.1L113 289.2L97.1 290.9L85.8 292.4L82.3 290.9L78.5 288.5L76 286.1L73.8 282.9L72.7 280.5L71.8 277.3L70.5 270.1L69 258.9L67.7 254.1L66 250.1L64.3 246.9L62.1 243.7L59.4 240.5M119.1 240.5L118.7 249.3L117.1 262.1L115.6 268.5L113 276.1L85.8 277L82.7 267.7L78.9 250.9L75.9 240.5"/>
<path fill="none" stroke="#111" stroke-width="0.72" stroke-dasharray="6.7 2.4" d="M221.6 299.6L213 302.1L194.4 306.6L189.4 312.5L187.8 314.9L187.4 317.3L187.9 318.9L190.3 321.3L194.4 323.6L201.7 319.7L208 317.3L211.4 316.5L221.6 314.9L226.1 310.9L227.2 309.3L227.7 307.7L227.5 306.1L226.5 304.5L221.6 299.6M221.6 295.4L204.6 299.7L194.4 301.9L181.1 314.9L179.7 318.1L179.7 319.7L180.1 320.5L181.7 322.1L184.3 323.7L186.5 324.5L194.4 326.2L200.2 324.5L207.9 321.3L212.5 319.7L221.6 317.5L226.5 315.7L228 314.9L230.7 312.5L232.9 310.1L233.9 307.7L233.6 306.1L232 303.7L229.6 301.3L225.6 298.1L221.6 295.4M221.6 292.2L194.4 298.4L189.8 302.1L181.9 309.3L174.5 314.9L171.3 318.9L170.9 320.5L171.2 321.3L173.9 323.7L177.7 325.3L183.6 326.9L194.4 328.8L225.3 318.9L233.1 315.7L236.1 313.3L239 310.1L240.1 307.7L239.8 306.1L238.2 303.7L234.7 300.5L227.9 295.7L221.6 292.2M221.6 289.6L194.4 295.4L188.4 299.7L176.7 309.3L167.3 315.3L165.2 318.1L164.4 319.7L164.2 321.3L165.1 323.7L167.3 326.2L171.5 327.7L183.9 330.1L194.4 331.4L229 320.5L235.1 318.1L239.7 315.7L243.8 311.7L246.1 308.5L246.2 306.9L245 304.5L242 301.3L233.6 295.7L228 292.5L221.6 289.6M85.8 355.4L58.7 367.4L55 369.3L52.4 370.9L50.6 372.5L49.7 374.1L50.2 375.7L51 376.5L53.5 378.1L58.7 380.2L75.3 382.9L85.8 385L91.5 372.5L92.3 369.3L92.7 366.1L92.1 362.9L90.9 360.5L88.9 358.1L85.8 355.4M221.6 287.1L194.4 292.7L189.6 295.7L185.1 298.9L175 306.9L167.3 311.8L163.2 314.9L159.9 318.9L158.8 321.3L158.9 323.7L160.3 326.9L162.1 328.5L163.4 329.3L167.3 331L176.7 332.5L194.4 334L221.6 325.3L233.3 322.1L239.6 319.7L244.1 317.3L246.3 315.7L250.4 311.7L252 309.3L252.1 307.7L251.6 306.1L248.9 302.1L247 300.5L233.9 292.5L227.3 289.3L221.6 287.1M331.7 363.3L330.2 363.3L329.1 364.5L327.7 366.9L327.2 369.3L328 372.5L330.1 376.5L330.2 376.7L331.7 376.7M30 388.6L58.7 389.4L85.8 390.5L91.6 386.1L97.1 378.1L101.8 372.5L104.5 366.1L105.2 361.3L104.9 358.1L104 355.7L102.9 354.1L101.1 352.5L96.2 350.1L90.6 348.5L85.8 347.6L64.1 353.3L36.6 361.3L31.5 363.3L30 363.3M221.6 284.8L194.4 290.1L186.3 294.9L181.8 298.1L173.6 304.5L159.7 314.1L155.8 318.1L154 320.5L152.8 323.7L152.6 327.7L153.7 330.1L155.1 331.7L157.5 333.3L162.2 334.9L166.6 335.7L194.4 336.7L221.6 327.9L229.8 326.1L238.2 323.7L244.7 321.3L248.7 319.2L252.1 318.1L255.1 316.5L256.9 314.9L257.9 313.3L258.5 311.7L258.5 310.1L257.4 306.9L252.9 301.3L248.7 298.1L236.9 290.9L230 287.7L221.6 284.8M331.7 356.3L330.2 356.3L326 357.3L323.4 358.1L319.7 359.7L318.5 360.5L317 362.1L316.4 363.7L316.3 365.3L316.6 367.7L317.5 370.1L322 377.3L323.8 378.9L330.2 383.1L331.7 383.1M30 392.9L58.7 393.7L85.8 395.5L89 393.3L97.3 386.9L105.3 378.1L111.3 373.3L112.8 371.7L117.2 358.1L118.7 349.3L118.4 347.7L117.2 346.1L115.2 344.5L113 343.4L98.6 342.9L85.8 342.8L62 347.7L31.5 354.5L30 354.5M331.7 348L303 348.2L302.1 351.7L301.7 355.7L302 358.9L303.1 363.7L305.2 366.9L312.8 376.5L315.1 378.9L321.4 383.7L328.2 390.9L330.2 392.4L331.7 392.4M30 397.2L58.7 397.2L85.8 399L91.2 396.5L95 394.1L103.8 386.9L115.7 375.7L118.1 372.5L121.9 364.5L124.6 359.7L127.4 355.7L129.5 353.3L133 350.9L144.3 345.3L151.1 342.9L159.7 341.3L181.3 339.7L194.4 339.3L221.6 330.6L235.5 327.7L244 325.3L248.7 323.6L256.7 322.9L261.6 322.1L264.5 321.3L266.1 320.5L267 319.7L267.6 318.9L267.9 317.3L267.7 314.9L267.1 312.5L266.1 310.9L262.8 306.9L257.5 301.3L251.6 296.5L245.7 292.5L238.4 288.5L230.7 285.3L221.6 282.5L194.4 287.6L185.5 292.5L179.5 296.5L170.3 303.7L155.3 314.1L148.8 320.5L143.6 328.5L141.6 330.9L139.8 332.5L136.1 334.1L128.5 335.7L113 337.1L98.2 338.9L85.8 339.7L80 340.5L46.2 346.1L31.5 349.1L30 349.1M331.7 343.2L327 342.9L313.8 341.3L303 339.3L299.9 340.5L296.5 342.9L295 345.3L294.5 347.7L294.8 354.9L296.1 360.5L298.7 367.7L300.8 371.7L303 375.2L306.4 378.9L312.6 384.5L320.2 392.5L322.8 394.1L326.7 395.7L330.2 396.8L331.7 396.8M90.6 401.3L101 394.9L115.8 382.1L122.7 374.1L127.5 366.1L131.1 361.3L136 356.5L140.1 353.7L164.1 346.1L175.6 343.7L181.3 342.9L194.4 341.7L221.6 333.2L235.3 330.9L242.4 329.3L248.7 327.5L260.8 328.5L266.2 329.3L272.6 330.9L275.9 332.3L277.1 331.7L279 330.1L279.8 328.5L280.2 326.1L279.9 322.9L278.9 318.9L277.6 315.7L275.9 312.5L270.1 308.5L255.8 295.7L247.7 290.1L241.7 286.9L236 284.5L228.7 282.1L221.6 280.2L194.4 285.1L189.1 287.7L178.5 294.1L167.3 302.7L152 313.3L145.4 318.9L140.1 324L135.2 326.9L129.5 329.3L121.1 331.7L103.2 334.9L91.5 336.5L69.7 338.9L31.5 344.3L30 344.3M237.3 401.3L221.6 394.6L207.9 393.3L202.5 392.5L194.4 390.5L191.5 391.7L185.6 393.3L174.3 394.9L167.3 395.5L160.1 401.3M331.7 338.8L330.2 338.8L319.7 337.3L312.3 335.7L307.2 334.1L303 332.3L297.6 330.9L293.7 329.3L290.1 326.9L287.8 324.5L285.7 321.3L282.6 314.9L280.6 311.7L268.4 302.9L261 295.7L255.8 291.7L248.7 287L241.7 283.7L232.1 280.5L221.6 277.9L194.4 282.5L188.4 285.3L182.6 288.5L175 293.3L167.3 299.2L148.7 312.5L140.1 319.2L129.6 324.5L123.6 326.9L118.1 328.5L107.3 330.9L88.7 334.1L63.6 336.5L31.5 340.6L30 340.6M99.5 401.3L107.2 395.7L113 390.5L116.3 388.5L119.2 386.1L123.3 381.3L127.9 374.9L130.8 370.1L135.3 364.5L140.1 360L145.5 357.3L156.3 353.3L172.7 348.5L183.2 346.1L194.4 344.3L221.6 335.8L233.9 334.1L248.7 331.4L258.9 333.3L264.9 334.9L278 339.7L279.9 340.5L282.3 342.1L283.7 343.7L285 346.1L286.5 350.1L289.2 358.9L295.1 373.3L297 377.3L299.8 381.3L306.8 388.5L310.9 393.3L314 395.7L317.1 397.3L321.8 398.9L325.5 399.7L331.7 400.4M266.8 401.3L263.3 399.7L258.7 398.1L238.3 392.5L221.6 387L204.9 383.7L194.4 381.1L167.3 387.9L162.9 390.9L154.6 397.3L147.8 401.3M331.7 335.8L330.2 335.8L325.1 334.9L315.2 332.5L300.2 326.9L296.7 325.3L294.4 323.7L291.8 321.3L286.5 312.5L285.1 310.9L280.8 307.7L275.9 304.9L273.1 302.9L271.2 301.3L265.3 294.9L261.4 291.7L255.8 287.7L248.7 283.3L243.9 281.3L233.3 278.1L221.6 275.6L209.4 277.3L194.4 279.8L187.5 282.9L181.4 286.1L172.7 291.7L153.8 305.3L140.1 315.7L125.9 322.1L117.5 325.3L113 326.6L107.9 327.7L85.8 331.9L58.7 333.6L30 336.7M108.5 401.3L113 397.2L117.5 396.5L119.9 395.7L122.4 394.1L124 392.5L126.2 389.3L129.9 381.3L134.9 372.5L136.6 370.1L140.1 366.3L145.9 363.7L156.3 358.1L160.6 356.5L178.2 350.9L184.3 349.3L194.4 347.3L204.8 343.7L221.6 338.4L239.1 336.5L248.7 334.9L259.7 338.1L267.5 341.3L270.5 342.9L274.2 345.3L275.9 346.7L277.5 348.5L280.3 353.3L287.1 368.5L290.4 381.3L291.8 386.1L293.2 389.3L293.1 390.9L292.3 391.7L290.9 392.5L288.1 393.3L282.7 394.1L275.9 394.6L248.7 389.6L221.6 381.1L194.4 375L166.6 380.5L163.3 382.1L160.9 383.7L147.5 394.9L142.6 398.1L140.1 399.3L135.4 399.7L130.7 400.5L128.6 401.3M302.8 401.3L303 400.4L303.3 401.3M331.7 333.2L330.2 333.2L320.9 330.9L303 324.5L300.1 322.9L297.1 320.5L295.3 318.1L291.2 311.7L287.8 308.5L282 304.5L275.9 301.4L271.4 295.7L267 291.7L258.2 285.3L248.7 279.6L241.7 277.3L235.5 275.7L221.6 273.1L194.4 277L184.8 281.3L177.2 285.3L162.1 295.7L150.1 304.5L140.1 312.3L121.3 320.5L113 323.6L85.8 329.3L58.7 330.6L30 333.2M242.8 339.7L248.7 339.1L257.3 342.1L262.1 344.5L264.7 346.1L267.8 348.5L271.5 352.5L275.9 358L279.2 363.7L280.6 366.9L281.3 369.3L281.7 374.1L281.4 378.9L280.4 382.9L278.6 386.1L275.9 388.7L266.5 386.1L256.3 384.5L248.7 383.7L224.1 375.7L207 371.7L194.4 368.3L180.4 370.9L167.3 374.1L156.1 374.9L153.3 375.7L151.8 376.5L150.2 378.1L146.9 384.5L140.1 392.4L138.4 390.9L136.9 388.5L136.1 385.3L136.4 382.1L137.5 378.9L140.1 373.3L147.8 372.5L150.4 371.7L151.9 370.9L159.2 364.5L167.3 358.9L177.5 355.7L185 352.5L200.3 348.5L213.4 343.7L221.6 341.2L242.8 339.7"/>
</g>
<rect x="31.5" y="241.5" width="298.7" height="158.8" fill="none" stroke="#000" stroke-width="1"/>
<path fill="none" stroke="#222" stroke-width="0.9" d="M31.5 400.3V407.1M58.7 400.3V407.1M85.8 400.3V407.1M113 400.3V407.1M140.1 400.3V407.1M167.3 400.3V407.1M194.4 400.3V407.1M221.6 400.3V407.1M248.7 400.3V407.1M275.9 400.3V407.1M303 400.3V407.1M330.2 400.3V407.1M31.5 395.9H28.3M330.2 395.9H333.4M31.5 387.2H25M330.2 387.2H336.7M31.5 378.5H28.3M330.2 378.5H333.4M31.5 369.8H28.3M330.2 369.8H333.4M31.5 361.1H28.3M330.2 361.1H333.4M31.5 352.3H28.3M330.2 352.3H333.4M31.5 343.6H25M330.2 343.6H336.7M31.5 334.9H28.3M330.2 334.9H333.4M31.5 326.2H28.3M330.2 326.2H333.4M31.5 317.5H28.3M330.2 317.5H333.4M31.5 308.8H28.3M330.2 308.8H333.4M31.5 300.1H25M330.2 300.1H336.7M31.5 291.4H28.3M330.2 291.4H333.4M31.5 282.6H28.3M330.2 282.6H333.4M31.5 273.9H28.3M330.2 273.9H333.4M31.5 265.2H28.3M330.2 265.2H333.4M31.5 256.5H25M330.2 256.5H336.7M31.5 247.8H28.3M330.2 247.8H333.4"/>
<text x="31.5" y="422.7" text-anchor="middle" class="tl">Jan</text>
<text x="58.7" y="422.7" text-anchor="middle" class="tl">Feb</text>
<text x="85.8" y="422.7" text-anchor="middle" class="tl">Mar</text>
<text x="113" y="422.7" text-anchor="middle" class="tl">Apr</text>
<text x="140.1" y="422.7" text-anchor="middle" class="tl">May</text>
<text x="167.3" y="422.7" text-anchor="middle" class="tl">Jun</text>
<text x="194.4" y="422.7" text-anchor="middle" class="tl">Jul</text>
<text x="221.6" y="422.7" text-anchor="middle" class="tl">Aug</text>
<text x="248.7" y="422.7" text-anchor="middle" class="tl">Sep</text>
<text x="275.9" y="422.7" text-anchor="middle" class="tl">Oct</text>
<text x="303" y="422.7" text-anchor="middle" class="tl">Nov</text>
<text x="330.2" y="422.7" text-anchor="middle" class="tl">Dec</text>
<text x="18.2" y="391.5" text-anchor="end" class="tl">0</text>
<text x="18.2" y="347.9" text-anchor="end" class="tl">10N</text>
<text x="18.2" y="304.4" text-anchor="end" class="tl">20N</text>
<text x="18.2" y="260.8" text-anchor="end" class="tl">30N</text>
<text x="33.3" y="233.2" class="tg">(c)</text>
<text x="331.1" y="234.8" text-anchor="end" class="tt">ESM2M</text>
<clipPath id="clip_d"><rect x="377.5" y="241.5" width="299.0" height="158.60000000000002"/></clipPath>
<g clip-path="url(#clip_d)">
<rect x="376.5" y="240.5" width="301.0" height="160.60000000000002" fill="#313695"/>
<path fill="#394ea1" fill-rule="evenodd" d="M376 240.5L678 240.5L678 400.5L376 400.5L376 240.5ZM540.6 312.1L538.6 315.7L536.9 318.1L532.9 322.1L529.3 324.5L527.4 326.9L526.8 328.5L526.8 329.3L527.3 330.9L528.3 332.5L529.8 334.1L534.4 337.3L539.6 339.7L540.6 340L548.6 337.3L555.1 335.7L567.8 333.6L575.5 330.1L578 328.5L578.7 327.7L579 326.9L578.7 325.3L577 322.1L575.1 319.7L567.8 312.1L540.6 312.1Z"/>
<path fill="#4067ad" fill-rule="evenodd" d="M376 240.5L678 240.5L678 400.5L376 400.5L376 240.5ZM431.9 364.9L423.6 366.1L404.7 368L402.5 370.9L401.3 373.3L401 374.9L401.5 377.3L402.7 379.7L404.7 382.4L423.8 384.5L431.9 385.8L434 382.9L435.4 380.5L436.4 377.3L436.7 374.9L436.4 372.5L435.6 370.1L434.2 367.7L431.9 364.9ZM540.6 308L535.4 314.9L532.5 318.1L526.8 322.1L521.3 324.5L518.6 326.9L517.5 328.5L517.2 329.3L517.5 330.9L518.2 332.5L519.3 334.1L523 337.3L527.2 339.7L529.4 340.5L533.2 341.3L540.6 342.5L550.6 340.5L559.9 338.1L578.6 334.1L585.6 330.9L588.4 329.3L589.2 328.5L589.5 327.7L589.1 326.9L584.3 322.1L571.6 310.9L567.8 308L540.6 308Z"/>
<path fill="#4c7db8" fill-rule="evenodd" d="M376 240.5L678 240.5L678 400.5L376 400.5L376 240.5ZM431.9 360L404.7 362.4L398.5 366.1L396.8 367.7L395.2 370.1L394.1 372.5L393.7 374.9L393.9 376.5L394.8 378.9L396.8 382.1L398.2 383.7L400.2 385.3L404.7 388L431.9 389.8L436.5 387.7L439.2 386.1L441.6 383.7L442.7 382.1L443.7 379.7L444.5 376.5L444.8 374.1L444.6 371.7L444 369.3L443.1 366.9L441.6 364.5L440.8 363.7L437.9 362.1L431.9 360ZM540.6 305.2L536.5 309.3L532.5 314.1L528.1 318.1L525.5 319.7L520.7 322.1L513.4 324.5L511.9 326.9L511.3 328.5L511.1 332.5L511.6 334.9L512.5 337.3L513.4 338.9L514.8 339.7L519.5 341.3L523 342.1L531.4 343.7L540.6 345.1L567.8 339.3L579 337.3L585.5 335.7L590.6 334.1L594.2 332.5L596.6 330.9L598 329.3L598.2 328.5L598 327.7L595 324.5L582.6 315.7L574.5 309.3L567.8 305.1L540.6 305.2Z"/>
<path fill="#5e93c4" fill-rule="evenodd" d="M376 240.5L678 240.5L678 400.5L376 400.5L376 240.5ZM431.9 356L404.7 357.2L397.7 360.5L390.8 365.3L389.2 366.9L387.7 369.3L386.6 372.5L386.4 374.9L386.8 377.3L388.2 380.5L390.4 383.7L394.1 386.9L397.8 389.3L404.7 392.4L431.9 393.2L437.5 390.9L444.2 387.7L446.8 386.1L449.6 383.7L450.9 382.1L451.7 379.7L452.7 375.7L453 371.7L452.6 367.7L451.8 364.5L450.8 362.9L449 361.3L444.7 358.9L439.3 357.3L431.9 356ZM540.6 302.9L536.8 306.1L529.9 313.3L526.1 316.5L520.6 319.7L510.9 323.7L509.2 325.3L507.5 328.5L506.9 330.9L506.8 334.9L507.3 338.9L508.2 340.5L509 341.3L513.4 343.7L526.3 346.1L540.6 347.7L548.9 346.1L567.8 341.7L580.2 340.5L589.4 338.9L597.3 336.5L601 334.9L603.3 333.3L605 330.9L605.1 329.3L604.2 327.7L595 319.8L587.1 314.9L576.9 307.7L567.8 302.6L540.6 302.9Z"/>
<path fill="#70a9cf" fill-rule="evenodd" d="M376 240.5L678 240.5L678 363.6L660.7 362.1L652.8 360.5L649.3 359L647.8 360.5L646.7 362.1L646.1 363.7L646 365.3L646.3 366.9L647.1 369.3L649.3 372.7L667.8 374.9L671 375.7L676.5 378.4L678 378.4L678 400.5L376 400.5L376 240.5ZM431.9 352.5L404.7 352.9L395.6 355.7L391.9 357.3L389.1 358.9L385.9 361.3L382.6 364.5L380.8 366.9L379.5 370.1L379 373.3L379.3 376.5L380.4 379.7L382 382.9L385.4 386.9L387.2 388.5L389.7 390.1L396.9 393.3L404.7 395.8L431.9 395.8L442.1 392.5L447.3 390.1L453.2 386.9L456.7 384.5L458.5 382.9L459 382.1L459.4 380.5L460.3 375.7L460.9 370.1L461.9 366.1L462.3 362.9L461.8 358.9L460.9 356.5L460 354.9L459 353.7L457.4 353.3L431.9 352.5ZM567.8 300.3L540.6 300.7L535.8 304.5L527.5 312.5L522.2 316.5L519.3 318.1L511.8 321.3L507.2 323.7L506.2 324.5L504.6 326.9L503.4 329.3L501.1 338.9L501.2 341.3L502.5 344.5L504.7 346.1L506.9 346.9L513.4 348.3L523.3 349.3L540.6 350.5L549 349.3L557.4 347.7L567.8 344.5L589.5 343.7L598.7 342.9L604.3 342.1L607.8 341.3L611.3 339.7L612.2 338.9L613.2 337.3L613.8 334.1L613.3 330.9L611.3 328.5L595 316.2L577.7 305.3L567.8 300.3Z"/>
<path fill="#85bbd8" fill-rule="evenodd" d="M376 240.5L678 240.5L678 357.2L676.5 357.2L673.3 356.5L649.3 350.1L645.5 349.3L642.8 348.5L639.2 346.9L635.7 344.5L630.1 339.7L626 335.7L621.7 330.9L620.6 330.1L611.7 324.5L597.9 314.9L583.8 306.1L576.7 302.1L567.8 298.1L540.6 298.6L533.9 303.7L525.2 311.7L522 314.1L516.7 317.3L507.7 321.3L502.6 324.5L499.9 328.5L496.3 336.5L493.4 341.3L490.5 343.7L486.2 346.1L459 346.1L449.6 347.7L431.9 349.4L404.7 349.5L393.2 351.7L387.8 353.3L382.1 355.7L379.4 357.3L377.5 358.8L376 358.8L376 240.5ZM486.1 349.3L491.2 350.9L495.2 351.7L501.8 352.5L540.6 355.2L554.3 353.3L567.8 350.5L582.9 351.7L595 353.2L604.5 354.9L614.9 357.3L622.1 359.6L624.5 361.3L629.9 366.1L636.3 373.3L638.5 374.1L650.4 376.5L655.3 378.1L663.3 381.3L668.8 382.9L676.5 384.6L678 384.6L678 400.5L376 400.5L376 388L377.5 388L378.9 389.3L381.5 390.9L388.5 394.1L395.8 396.5L404.7 398.8L431.9 398.4L443.9 394.9L452.2 391.7L459 388L462.8 385.3L464.3 383.7L465.3 381.3L467.2 370.1L470.1 367.7L473.7 363.7L479.6 354.9L482.1 351.7L484.2 350.1L486.1 349.3Z"/>
<path fill="#9acbe2" fill-rule="evenodd" d="M376 240.5L678 240.5L678 350.1L676.5 350.1L673.3 349.3L658.3 345.3L649.3 342.5L642.7 339.7L635.7 335.7L628.2 330.1L622.1 327.3L617.3 324.5L601.7 314.1L585.9 304.5L576.8 299.7L567.8 295.9L540.6 296.6L532.1 302.9L526.9 307.7L521 312.5L514.2 316.5L505 320.5L499.9 323.7L497.2 326.9L491 336.5L488.7 338.9L486.2 340.9L459 341.7L442.7 344.5L431.9 346.1L404.7 346.1L388.6 348.5L381.3 350.1L377.5 351.3L376 351.3L376 240.5ZM505.4 358.9L513.4 358.2L540.6 360.6L567.8 358.4L577.9 359.7L586.4 361.3L590.7 362.9L595 366.2L600.4 368.5L609.7 370.9L622.1 373L624.1 374.9L628.4 377.3L635.6 380.5L644.1 383.7L652.4 386.1L659.5 387.7L671.1 389.3L678 389.8L678 400.5L435.2 400.5L455.1 394.1L462.4 390.9L466.2 388.5L469.5 385.3L471 382.9L473.6 370.1L474.8 369.3L478.5 367.7L486.2 363L488.6 362.1L494.3 360.5L505.4 358.9ZM376 394.1L377.5 394L386.8 397.3L398.5 400.5L376 400.5L376 394.1Z"/>
<path fill="#afdbea" fill-rule="evenodd" d="M376 240.5L678 240.5L678 344.5L676.5 344.5L654.4 338.9L649.3 337.5L647.1 336.5L642.2 334.1L634.2 329.3L622.1 324.1L602.8 311.7L585 301.3L576.9 297.3L567.8 293.7L540.6 294.5L530.3 302.1L524.1 307.7L519 311.7L513.4 314.9L502.3 319.7L496.2 323.7L488.8 333.3L486.2 336.1L474.9 337.3L459 338.5L431.9 342.7L404.7 342.7L394.3 343.7L377.5 346.1L376 346.1L376 240.5ZM511.5 362.1L513.4 361.8L525.9 362.9L533.3 363.7L538.1 364.5L540.6 365.2L565.5 364.5L567.8 363.9L568.8 367.7L570.5 377.3L571.3 379.7L572.5 382.1L574.5 384.5L578 387.7L582.8 391.7L585.6 393.3L587.7 394.9L589.1 397.3L589.9 400.5L445.8 400.5L452.2 398.1L465.8 394.1L469.3 392.5L472.6 390.1L475.2 386.9L476.9 383.7L478.6 374.9L480 370.1L481.7 369.3L486.2 368L491.9 366.9L501.8 363.7L511.5 362.1ZM666.7 394.1L678 393.6L678 400.5L627.9 400.5L625.7 398.9L622.7 397.3L622.3 396.5L649.3 396L656.9 394.9L666.7 394.1ZM376 398.9L376 398.4L377.5 398.4L382.8 400.5L376 400.5L376 398.9Z"/>
<path fill="#c3e5f0" fill-rule="evenodd" d="M376 240.5L678 240.5L678 340.1L676.5 340.1L663.6 337.3L649.3 333.3L641.8 329.3L622.1 320.9L603.9 309.3L585.6 298.9L577 294.9L567.8 291.3L540.6 292.3L529.5 300.5L524.6 304.5L521.3 307.7L515.9 311.7L513.4 313.1L508 314.9L502.6 317.3L497.9 319.7L495.5 321.3L491.8 324.5L486.2 331.3L476 333.3L459 335.3L431.9 339.3L404.7 339.7L376 341.7L376 240.5ZM513 365.3L513.4 365.1L514.1 365.3L517.6 366.9L520.6 368.5L524.1 370.9L528.1 374.9L534 382.9L536.6 385.3L539 386.9L542.8 388.5L567.1 395.7L571 398.1L573 400.5L456.4 400.5L459 399.2L467 398.1L474 396.5L477.3 394.9L479.3 393.3L481 390.9L482.3 387.7L483.3 383.7L484.5 375.7L486.2 370.3L499.9 369.3L506.4 368.5L508.8 367.7L513 365.3Z"/>
<path fill="#d6eef6" fill-rule="evenodd" d="M376 240.5L678 240.5L678 336.9L676.5 336.9L671.5 335.7L656.4 331.7L649.3 329.3L626.5 319.7L622.1 317.7L606.3 307.7L588 297.3L579.3 293.3L567.8 288.8L540.6 289.9L526.7 300.5L521.8 304.5L518.5 307.7L514.1 310.9L513.4 311.3L504.5 314.1L497.7 317.3L494.8 318.9L491.5 321.3L488.9 323.7L486.2 326.9L481.1 328.5L464.4 331.7L431.9 336.1L404.7 336.7L376 338.5L376 240.5ZM513.1 388.5L513.4 388.4L517.6 390.9L519.8 391.7L522.8 392.5L537.3 394.9L540.4 395.7L540.6 396.5L540.4 397.3L538.7 398.9L535.4 400.5L493.6 400.5L505.3 392.5L513.1 388.5Z"/>
<path fill="#e8f0e1" fill-rule="evenodd" d="M376 240.5L678 240.5L678 333.7L676.5 333.7L667.9 331.7L658.5 328.5L649.3 326.1L629.8 318.1L622.1 314.5L608.9 306.1L590.5 295.7L583.7 292.5L573.8 288.5L567.8 285.7L540.6 287L536.4 290.9L523.8 300.5L519 304.5L515.7 307.7L513.4 309.3L505.2 311.7L498.8 314.1L491.5 318.1L488.3 320.5L486.2 322.5L479.8 325.3L474.7 326.9L467.2 328.5L451.5 330.9L431.9 333.3L404.7 333.7L376 334.9L376 240.5Z"/>
<path fill="#f5e8b2" fill-rule="evenodd" d="M376 240.5L678 240.5L678 330.9L676.5 330.9L668.3 327.7L663.4 326.1L657.4 324.5L649.3 322.9L632.9 316.5L622.1 311.3L612.8 305.3L594.9 294.9L588.3 291.7L575 286.1L567.8 281.8L540.6 283L537.5 286.9L534.3 290.1L520 301.3L513.4 307.3L503.1 310.1L496.4 312.5L491.7 314.9L486.2 318.5L482.4 320.5L477.1 322.9L469.9 325.3L459 327.7L431.9 331.3L404.7 331.7L376 332.5L376 240.5Z"/>
<path fill="#fedd89" fill-rule="evenodd" d="M376 240.5L678 240.5L678 325.7L676.5 325.7L670.5 323.7L663.5 322.1L649.3 320.3L637.7 315.7L627.7 310.9L622.1 307.9L616.8 304.5L595 291.8L579.9 285.3L572.9 281.3L567.8 278.8L540.6 280.2L537.5 282.9L534.4 286.9L531.3 290.1L513.4 304.5L493.4 310.9L490 312.5L483.4 316.5L476.9 319.7L468.8 322.9L463.3 324.5L459 325.5L450.3 326.9L431.9 329.3L376 329.3L376 240.5Z"/>
<path fill="#fecb7a" fill-rule="evenodd" d="M376 240.5L678 240.5L678 320.1L676.5 320.1L668.2 318.9L649.3 317.7L646.2 316.5L634 310.9L622.1 304.5L599.3 290.9L584.8 284.5L577.4 280.5L567.8 275.8L540.6 277.8L535.1 282.1L531.3 286.9L528.2 290.1L513.4 302.1L505.2 304.5L488.2 310.1L486.2 310.9L480.3 314.9L473.6 318.1L465.4 321.3L459 323.3L442.2 326.1L431.9 327.5L404.7 327.1L376 325.7L376 240.5Z"/>
<path fill="#fdb667" fill-rule="evenodd" d="M376 240.5L678 240.5L678 314.5L649.3 315.1L638.6 310.1L627.5 303.7L622.1 301.3L603.9 290.1L589.4 283.7L574.1 275.7L567.8 272.8L540.6 275L532.7 281.3L531.1 282.9L528.2 286.9L525.2 290.1L513.4 299.7L499.5 303.7L486.2 308.1L474.4 314.9L466.9 318.1L459 320.9L448.9 322.9L431.9 325.7L404.7 324.7L391 323.7L376 322.1L376 240.5Z"/>
<path fill="#fb9e59" fill-rule="evenodd" d="M376 240.5L678 240.5L678 311.3L649.3 312.1L643.4 309.3L630.8 301.3L627.3 299.7L622.1 297.9L617.1 294.9L610.3 290.1L606 287.7L600.5 285.3L595 283.4L574.5 272.5L567.8 269.8L540.6 272.2L536.9 274.9L530.3 280.5L528 282.9L525.1 286.9L523 289.3L513.4 297.3L498.9 301.3L486.2 305.3L482.4 307.7L472.1 313.3L459 318.5L450 320.5L431.9 323.7L404.7 322.5L394 321.3L377.5 318.5L376 318.5L376 240.5Z"/>
<path fill="#f8854d" fill-rule="evenodd" d="M376 240.5L678 240.5L678 308.3L649.3 309.1L643.6 305.3L638.6 300.5L634.6 298.1L630.4 296.5L622.1 294.5L615.5 289.3L610.2 286.1L601.1 282.1L595 280.2L584.3 274.1L579.6 270.9L576.6 269.3L571.8 267.7L567.8 266.8L540.6 269.4L534.9 273.3L530 278.1L527 280.5L525.5 282.1L522 286.9L519.9 289.3L513.4 294.9L495.4 299.7L486.2 302.5L479.5 306.9L470.1 311.7L464.7 314.1L459 316.1L447.4 318.9L431.9 321.7L404.7 320.1L391.4 318.1L377.5 315.3L376 315.3L376 240.5Z"/>
<path fill="#f36e42" fill-rule="evenodd" d="M376 240.5L678 240.5L678 292.1L676.5 292.1L670.8 294.1L649.3 303.9L647.5 299.7L645.9 297.3L643.1 294.9L640.2 293.3L635.9 291.7L632.7 290.9L622.1 289.4L616.8 285.3L608.6 280.5L604.4 278.9L595 276.6L590 273.3L587.1 269.3L585.3 267.7L583.9 266.9L581.8 266.1L578.5 265.3L567.8 263.8L555.3 265.3L540.6 266.6L539.9 266.9L535.6 269.3L531.6 272.5L526.6 278.1L522.9 281.3L518.3 287.7L513.4 292.5L502.9 294.9L486.2 299.7L478.1 305.3L475.3 306.9L465.1 311.7L459 314.1L441.5 318.1L431.9 319.9L417.4 318.9L402.2 317.3L385 314.1L377.5 312.1L376 312.1L376 240.5Z"/>
<path fill="#ea5738" fill-rule="evenodd" d="M409.4 240.5L588.2 240.5L588.2 241.3L587.6 245.3L586.3 248.5L584.4 250.9L581 253.3L576.8 254.9L567.8 256.6L540.6 263.8L533.5 266.9L530.4 269.3L528 271.7L523.2 278.1L519.7 281.3L516.4 286.1L513.4 289.7L497.4 293.3L492.2 294.9L486.2 297.1L481.3 299.7L475.1 304.5L472.5 306.1L459 312.1L431.9 318.1L404.7 315.3L397.3 314.1L386.3 311.7L379.5 309.3L377.5 308.1L376 308.1L376 283L377.5 283L378.7 278.9L380.5 274.9L382.8 271.7L385.9 268.5L389.3 266.1L392.4 264.5L404.7 259.4L407.9 248.5L409.4 240.5ZM629.4 240.5L678 240.5L678 269L676.5 269L670.7 267.7L665.1 266.1L660.9 264.5L655.2 261.3L652.2 258.9L649.3 256L642.3 254.1L636.7 251.7L634.4 250.1L632.2 247.7L630.9 245.3L629.4 240.5ZM620.1 266.9L622.1 266.2L628.4 268.5L631.4 270.1L632.5 270.9L633.8 272.5L634 274.1L633.3 275.7L632 277.3L629.9 278.9L626.8 280.5L622.1 282.2L619.5 278.9L616.4 276.5L613.2 274.9L608.6 273.3L607.2 272.5L607.7 271.7L610.5 270.1L620.1 266.9Z"/>
<path fill="#df3f2e" fill-rule="evenodd" d="M421.3 240.5L496.5 240.5L496.7 242.9L498.2 245.3L501.2 247.7L504.2 249.3L508 250.9L513 252.5L525.9 254.1L528.9 254.9L530.7 255.7L532.1 257.3L532.4 258.9L532.1 261.3L531.4 263.7L530.6 264.5L528 266.1L526.4 267.7L523.6 271.7L520.4 277.3L516.4 281.3L513.4 286L486.2 293L480.2 297.3L476.4 299.7L469.8 305.3L466.7 306.9L459 310.1L431.9 316.1L404.7 313.3L400.1 312.5L393.5 310.9L389.1 309.3L387.4 308.5L383.8 306.1L381.7 303.7L380 300.5L379.1 297.3L379.2 294.1L380.8 290.9L385 285.3L388 280.5L390.1 278.1L392.9 275.7L395.3 274.1L398.3 272.5L404.7 269.8L408.6 265.3L411.5 261.3L414.2 256.5L421.3 240.5ZM532.2 240.5L559.3 240.5L558.8 241.3L557.9 242.1L554.4 243.7L540.6 247.8L538.2 246.9L535.8 245.3L534.3 243.7L532.2 240.5ZM643.9 240.5L678 240.5L678 257.2L676.5 257.2L663.6 250.9L649.3 245L646.4 242.9L643.9 240.5Z"/>
<path fill="#d02a28" fill-rule="evenodd" d="M439.3 240.5L467.3 240.5L467.2 242.1L467.9 244.5L468.8 246.1L470.8 248.5L476.3 253.3L486.2 260.2L494 258.9L513.4 257.8L516.4 258.9L519.4 260.5L520.4 261.3L521.7 262.9L522 263.7L522 264.5L521.1 266.1L516.9 277.3L516.4 278.1L513.4 281L508.1 282.1L500.2 284.5L486.2 289.3L481.4 291.7L478.9 293.3L471.4 299.7L466.9 304.5L462.4 306.9L459 308.1L452.7 309.3L431.9 314.3L408 311.7L403.2 310.9L398.7 309.3L393.3 306.9L390.6 305.3L389.7 304.5L387.6 301.3L386.7 298.9L386.5 296.5L387.2 294.1L390.3 289.3L396.9 281.3L400 278.9L404.7 276.2L407.5 274.1L410.4 271.7L412.7 269.3L422.8 256.5L431.9 242.2L439.3 240.5ZM661.9 240.5L678 240.5L678 246.2L676.5 246.2L661.9 240.5Z"/>
<path fill="#bc1627" fill-rule="evenodd" d="M431.4 256.5L431.9 256L438.3 256.5L447.2 257.3L459 259L462.5 260.5L476.2 265.3L486.2 269.8L500.2 267.7L507.8 266.1L513.4 264.6L514.1 266.1L514.7 268.5L514.8 270.9L514.5 273.3L513.4 277.3L494.6 279.7L491 280.5L486.2 282.2L477.4 289.3L472.9 292.5L466.4 299.7L462.8 304.5L459 306.5L448.5 307.7L444.7 308.5L431.9 312.1L416.5 310.1L404.7 307.9L398.2 305.3L395.9 302.9L394.4 300.5L393.9 298.9L393.8 297.3L394.6 294.9L398.6 289.3L402.7 284.5L404.7 282.6L412 277.3L417.4 272.5L420.3 269.3L425.8 262.1L431.4 256.5Z"/>
<path fill="#a70326" fill-rule="evenodd" d="M431.4 264.5L431.9 263.8L459 266.6L473 274.1L475.1 275.7L475.6 276.5L475.7 277.3L475 278.9L470.2 286.9L465.3 293.3L459 304L440.5 306.1L434.4 307.7L431.9 309.1L427.5 307.7L424 306.9L404.7 304.5L402.6 302.1L401.3 299.7L401.1 298.1L401.4 296.5L402.4 294.9L404.7 292.1L407.9 290.1L410.7 287.7L421 277.3L426 271.7L431.4 264.5Z"/>
<path fill="none" stroke="#111" stroke-width="0.7" stroke-linejoin="round" d="M678 330.9L676.5 330.9L668.3 327.7L663.4 326.1L657.4 324.5L649.3 322.9L632.9 316.5L622.1 311.3L612.8 305.3L594.9 294.9L588.3 291.7L575 286.1L567.8 281.8L540.6 283L537.5 286.9L534.3 290.1L520 301.3L513.4 307.3L503.1 310.1L496.4 312.5L491.7 314.9L486.2 318.5L482.4 320.5L477.1 322.9L469.9 325.3L459 327.7L431.9 331.3L404.7 331.7L376 332.5M678 325.7L676.5 325.7L670.5 323.7L663.5 322.1L649.3 320.3L637.7 315.7L627.7 310.9L622.1 307.9L616.8 304.5L595 291.8L579.9 285.3L572.9 281.3L567.8 278.8L540.6 280.2L537.5 282.9L534.4 286.9L531.3 290.1L513.4 304.5L493.4 310.9L490 312.5L483.4 316.5L476.9 319.7L468.8 322.9L463.3 324.5L459 325.5L450.3 326.9L431.9 329.3L376 329.3M678 320.1L676.5 320.1L668.2 318.9L649.3 317.7L646.2 316.5L634 310.9L622.1 304.5L599.3 290.9L584.8 284.5L577.4 280.5L567.8 275.8L540.6 277.8L535.1 282.1L531.3 286.9L528.2 290.1L513.4 302.1L505.2 304.5L488.2 310.1L486.2 310.9L480.3 314.9L473.6 318.1L465.4 321.3L459 323.3L442.2 326.1L431.9 327.5L404.7 327.1L376 325.7M678 314.5L649.3 315.1L638.6 310.1L627.5 303.7L622.1 301.3L603.9 290.1L589.4 283.7L574.1 275.7L567.8 272.8L540.6 275L532.7 281.3L531.1 282.9L528.2 286.9L525.2 290.1L513.4 299.7L499.5 303.7L486.2 308.1L474.4 314.9L466.9 318.1L459 320.9L448.9 322.9L431.9 325.7L404.7 324.7L391 323.7L376 322.1M678 311.3L649.3 312.1L643.4 309.3L630.8 301.3L627.3 299.7L622.1 297.9L617.1 294.9L610.3 290.1L606 287.7L600.5 285.3L595 283.4L574.5 272.5L567.8 269.8L540.6 272.2L536.9 274.9L530.3 280.5L528 282.9L525.1 286.9L523 289.3L513.4 297.3L498.9 301.3L486.2 305.3L482.4 307.7L472.1 313.3L459 318.5L450 320.5L431.9 323.7L404.7 322.5L394 321.3L377.5 318.5L376 318.5M678 308.3L649.3 309.1L643.6 305.3L638.6 300.5L634.6 298.1L630.4 296.5L622.1 294.5L615.5 289.3L610.2 286.1L601.1 282.1L595 280.2L584.3 274.1L579.6 270.9L576.6 269.3L571.8 267.7L567.8 266.8L540.6 269.4L534.9 273.3L530 278.1L527 280.5L525.5 282.1L522 286.9L519.9 289.3L513.4 294.9L495.4 299.7L486.2 302.5L479.5 306.9L470.1 311.7L464.7 314.1L459 316.1L447.4 318.9L431.9 321.7L404.7 320.1L391.4 318.1L377.5 315.3L376 315.3M678 292.1L676.5 292.1L670.8 294.1L649.3 303.9L647.5 299.7L645.9 297.3L643.1 294.9L640.2 293.3L635.9 291.7L632.7 290.9L622.1 289.4L616.8 285.3L608.6 280.5L604.4 278.9L595 276.6L590 273.3L587.1 269.3L585.3 267.7L583.9 266.9L581.8 266.1L578.5 265.3L567.8 263.8L555.3 265.3L540.6 266.6L539.9 266.9L535.6 269.3L531.6 272.5L526.6 278.1L522.9 281.3L518.3 287.7L513.4 292.5L502.9 294.9L486.2 299.7L478.1 305.3L475.3 306.9L465.1 311.7L459 314.1L441.5 318.1L431.9 319.9L404.7 317.7L385 314.1L377.5 312.1L376 312.1M588.2 240.5L587.8 244.5L586.3 248.5L584.4 250.9L581 253.3L576.8 254.9L567.8 256.6L540.6 263.8L535 266.1L532.3 267.7L528.8 270.9L523.2 278.1L519.7 281.3L516.4 286.1L513.4 289.7L497.4 293.3L492.2 294.9L486.2 297.1L481.3 299.7L475.1 304.5L472.5 306.1L459 312.1L431.9 318.1L404.7 315.3L397.3 314.1L386.3 311.7L379.5 309.3L377.5 308.1L376 308.1M620.1 266.9L622.1 266.2L628.4 268.5L631.4 270.1L632.5 270.9L633.8 272.5L634 274.1L633.3 275.7L632 277.3L629.9 278.9L626.8 280.5L622.1 282.2L619.5 278.9L616.4 276.5L613.2 274.9L608.6 273.3L607.2 272.5L607.7 271.7L610.5 270.1L620.1 266.9M678 269L676.5 269L670.7 267.7L665.1 266.1L660.9 264.5L655.2 261.3L652.2 258.9L649.3 256L642.3 254.1L636.7 251.7L634.4 250.1L632.2 247.7L630.9 245.3L629.4 240.5M376 283L377.5 283L378.7 278.9L380.5 274.9L382.8 271.7L385.9 268.5L389.3 266.1L392.4 264.5L404.7 259.4L407.9 248.5L409.4 240.5M496.5 240.5L496.7 242.9L498.2 245.3L501.2 247.7L504.2 249.3L508 250.9L513 252.5L525.9 254.1L528.9 254.9L530.7 255.7L532.1 257.3L532.3 260.5L531.4 263.7L530.6 264.5L528 266.1L526.4 267.7L523.6 271.7L520.4 277.3L516.4 281.3L513.4 286L486.2 293L480.2 297.3L476.4 299.7L469.8 305.3L466.7 306.9L459 310.1L431.9 316.1L404.7 313.3L396.3 311.7L391.1 310.1L387.4 308.5L382.9 305.3L380.4 301.3L379.1 297.3L379.1 294.9L379.9 292.5L385 285.3L387.4 281.3L389.3 278.9L392.9 275.7L395.3 274.1L398.3 272.5L404.7 269.8L409.2 264.5L412 260.5L414.2 256.5L421.3 240.5M559.3 240.5L558.8 241.3L557.9 242.1L554.4 243.7L540.6 247.8L538.2 246.9L535.8 245.3L534.3 243.7L532.2 240.5M678 257.2L676.5 257.2L663.6 250.9L649.3 245L646.4 242.9L643.9 240.5M467.3 240.5L467.2 242.1L467.9 244.5L468.8 246.1L470.8 248.5L476.3 253.3L486.2 260.2L494 258.9L513.4 257.8L516.4 258.9L519.4 260.5L520.4 261.3L521.7 262.9L522 263.7L522 264.5L521.1 266.1L516.9 277.3L516.4 278.1L513.4 281L508.1 282.1L500.2 284.5L486.2 289.3L481.4 291.7L478.9 293.3L471.4 299.7L466.9 304.5L462.4 306.9L459 308.1L452.7 309.3L431.9 314.3L404.7 311.3L398.7 309.3L391.8 306.1L389.7 304.5L387.2 300.5L386.5 298.1L386.5 296.5L387.2 294.1L388.6 291.7L396.1 282.1L398.8 279.7L404.7 276.2L408.5 273.3L411.2 270.9L414.1 267.7L422.8 256.5L431.9 242.2L439.3 240.5M678 246.2L676.5 246.2L661.9 240.5M431.4 256.5L431.9 256L438.3 256.5L447.2 257.3L459 259L462.5 260.5L476.2 265.3L486.2 269.8L500.2 267.7L507.8 266.1L513.4 264.6L514.1 266.1L514.7 268.5L514.8 270.9L514.5 273.3L513.4 277.3L494.6 279.7L491 280.5L486.2 282.2L477.4 289.3L472.9 292.5L466.4 299.7L462.8 304.5L459 306.5L448.5 307.7L444.7 308.5L431.9 312.1L416.5 310.1L404.7 307.9L398.2 305.3L395.9 302.9L394.4 300.5L393.9 298.9L393.8 297.3L394.6 294.9L398.6 289.3L402.7 284.5L404.7 282.6L412 277.3L417.4 272.5L420.3 269.3L425.8 262.1L431.4 256.5M431.4 264.5L431.9 263.8L459 266.6L473 274.1L475.1 275.7L475.6 276.5L475.7 277.3L475 278.9L470.2 286.9L465.3 293.3L459 304L440.5 306.1L434.4 307.7L431.9 309.1L427.5 307.7L424 306.9L404.7 304.5L402.6 302.1L401.3 299.7L401.1 298.1L401.4 296.5L402.4 294.9L404.7 292.1L407.9 290.1L410.7 287.7L421 277.3L426 271.7L431.4 264.5"/>
<path fill="none" stroke="#111" stroke-width="0.72" stroke-dasharray="6.7 2.4" d="M540.6 312.1L538.6 315.7L536.9 318.1L532.9 322.1L529.3 324.5L527.4 326.9L526.8 328.5L526.8 329.3L527.3 330.9L528.3 332.5L529.8 334.1L534.4 337.3L539.6 339.7L540.6 340L548.6 337.3L555.1 335.7L567.8 333.6L575.5 330.1L578 328.5L578.7 327.7L579 326.9L578.7 325.3L577 322.1L575.1 319.7L567.8 312.1L540.6 312.1M540.6 308L535.4 314.9L532.5 318.1L526.8 322.1L521.3 324.5L518.6 326.9L517.5 328.5L517.2 329.3L517.5 330.9L518.2 332.5L519.3 334.1L523 337.3L527.2 339.7L529.4 340.5L533.2 341.3L540.6 342.5L550.6 340.5L559.9 338.1L578.6 334.1L585.6 330.9L588.4 329.3L589.2 328.5L589.5 327.7L589.1 326.9L584.3 322.1L571.6 310.9L567.8 308L540.6 308M431.9 364.9L423.6 366.1L404.7 368L402.5 370.9L401.3 373.3L401 374.9L401.5 377.3L402.7 379.7L404.7 382.4L423.8 384.5L431.9 385.8L434 382.9L435.4 380.5L436.4 377.3L436.7 374.9L436.4 372.5L435.6 370.1L434.2 367.7L431.9 364.9M540.6 305.2L536.5 309.3L532.5 314.1L528.1 318.1L525.5 319.7L520.7 322.1L513.4 324.5L511.9 326.9L511.3 328.5L511.1 332.5L511.6 334.9L512.5 337.3L513.4 338.9L514.8 339.7L519.5 341.3L523 342.1L531.4 343.7L540.6 345.1L567.8 339.3L579 337.3L585.5 335.7L590.6 334.1L594.2 332.5L596.6 330.9L598 329.3L598.2 328.5L598 327.7L595 324.5L582.6 315.7L574.5 309.3L567.8 305.1L540.6 305.2M431.9 360L404.7 362.4L398.5 366.1L396.8 367.7L395.2 370.1L394.1 372.5L393.7 374.9L393.9 376.5L394.8 378.9L396.8 382.1L398.2 383.7L400.2 385.3L404.7 388L431.9 389.8L436.5 387.7L439.2 386.1L441.6 383.7L442.7 382.1L443.7 379.7L444.5 376.5L444.8 374.1L444.6 371.7L444 369.3L443.1 366.9L441.6 364.5L440.8 363.7L437.9 362.1L431.9 360M540.6 302.9L536.8 306.1L529.9 313.3L526.1 316.5L520.6 319.7L510.9 323.7L509.2 325.3L507.5 328.5L506.9 330.9L506.8 334.9L507.3 338.9L508.2 340.5L509 341.3L513.4 343.7L526.3 346.1L540.6 347.7L548.9 346.1L567.8 341.7L580.2 340.5L589.4 338.9L597.3 336.5L601 334.9L603.3 333.3L605 330.9L605.1 329.3L604.2 327.7L595 319.8L587.1 314.9L576.9 307.7L567.8 302.6L540.6 302.9M431.9 356L404.7 357.2L397.7 360.5L390.8 365.3L389.2 366.9L387.7 369.3L386.6 372.5L386.4 374.9L386.8 377.3L388.2 380.5L390.4 383.7L394.1 386.9L397.8 389.3L404.7 392.4L431.9 393.2L437.5 390.9L444.2 387.7L446.8 386.1L449.6 383.7L450.9 382.1L451.7 379.7L452.7 375.7L453 371.7L452.6 367.7L451.8 364.5L450.8 362.9L449 361.3L444.7 358.9L439.3 357.3L431.9 356M567.8 300.3L540.6 300.7L535.8 304.5L527.5 312.5L522.2 316.5L519.3 318.1L511.8 321.3L507.2 323.7L506.2 324.5L504.6 326.9L503.4 329.3L501.1 338.9L501.2 341.3L502.5 344.5L504.7 346.1L506.9 346.9L513.4 348.3L523.3 349.3L540.6 350.5L549 349.3L557.4 347.7L567.8 344.5L589.5 343.7L598.7 342.9L604.3 342.1L607.8 341.3L611.3 339.7L612.2 338.9L613.2 337.3L613.8 334.1L613.3 330.9L611.3 328.5L595 316.2L577.7 305.3L567.8 300.3M431.9 352.5L404.7 352.9L395.6 355.7L391.9 357.3L389.1 358.9L385.9 361.3L382.6 364.5L380.8 366.9L379.5 370.1L379 373.3L379.3 376.5L380.4 379.7L382 382.9L385.4 386.9L387.2 388.5L389.7 390.1L396.9 393.3L404.7 395.8L431.9 395.8L442.1 392.5L447.3 390.1L453.2 386.9L456.7 384.5L458.5 382.9L459 382.1L459.4 380.5L460.3 375.7L460.9 370.1L461.9 366.1L462.3 362.9L461.8 358.9L460.9 356.5L460 354.9L459 353.7L457.4 353.3L431.9 352.5M678 363.6L660.7 362.1L652.8 360.5L649.3 359L647.8 360.5L646.7 362.1L646.1 363.7L646 365.3L646.3 366.9L647.1 369.3L649.3 372.7L667.8 374.9L671 375.7L676.5 378.4L678 378.4M678 357.2L676.5 357.2L673.3 356.5L649.3 350.1L645.5 349.3L642.8 348.5L639.2 346.9L635.7 344.5L630.1 339.7L626 335.7L621.7 330.9L620.6 330.1L611.7 324.5L597.9 314.9L583.8 306.1L576.7 302.1L567.8 298.1L540.6 298.6L533.9 303.7L525.2 311.7L522 314.1L516.7 317.3L507.7 321.3L502.6 324.5L499.9 328.5L496.3 336.5L493.4 341.3L490.5 343.7L486.2 346.1L459 346.1L449.6 347.7L431.9 349.4L404.7 349.5L393.2 351.7L387.8 353.3L382.1 355.7L379.4 357.3L377.5 358.8L376 358.8M376 388L377.5 388L378.9 389.3L381.5 390.9L388.5 394.1L395.8 396.5L404.7 398.8L431.9 398.4L446.4 394.1L452.2 391.7L456.9 389.3L460.7 386.9L463.6 384.5L465.1 382.1L467.2 370.1L470.1 367.7L473.7 363.7L479.6 354.9L482.1 351.7L484.2 350.1L486.2 349.3L491.2 350.9L495.2 351.7L501.8 352.5L540.6 355.2L554.3 353.3L567.8 350.5L589.6 352.5L604.5 354.9L614.9 357.3L622.1 359.6L625.5 362.1L629.1 365.3L636.3 373.3L638.5 374.1L650.4 376.5L655.3 378.1L663.3 381.3L668.8 382.9L676.5 384.6L678 384.6M678 350.1L676.5 350.1L673.3 349.3L658.3 345.3L649.3 342.5L642.7 339.7L635.7 335.7L628.2 330.1L622.1 327.3L617.3 324.5L601.7 314.1L585.9 304.5L576.8 299.7L567.8 295.9L540.6 296.6L532.1 302.9L526.9 307.7L521 312.5L514.2 316.5L505 320.5L499.9 323.7L497.2 326.9L491 336.5L488.7 338.9L486.2 340.9L459 341.7L442.7 344.5L431.9 346.1L404.7 346.1L388.6 348.5L381.3 350.1L377.5 351.3L376 351.3M376 394L377.5 394L386.8 397.3L398.5 400.5M435.2 400.5L455.1 394.1L462.4 390.9L465.1 389.3L468.8 386.1L470.1 384.5L471 382.9L473.6 370.1L474.8 369.3L478.5 367.7L486.2 363L491.1 361.3L498.8 359.7L513.4 358.2L540.6 360.6L567.8 358.4L582.9 360.5L586.4 361.3L590.7 362.9L595 366.2L600.4 368.5L609.7 370.9L622.1 373L624.1 374.9L628.4 377.3L635.6 380.5L644.1 383.7L652.4 386.1L659.5 387.7L671.1 389.3L678 389.8M678 344.5L676.5 344.5L654.4 338.9L649.3 337.5L647.1 336.5L642.2 334.1L634.2 329.3L622.1 324.1L602.8 311.7L585 301.3L576.9 297.3L567.8 293.7L540.6 294.5L530.3 302.1L524.1 307.7L519 311.7L513.4 314.9L502.3 319.7L496.2 323.7L488.8 333.3L486.2 336.1L474.9 337.3L459 338.5L431.9 342.7L404.7 342.7L394.3 343.7L377.5 346.1L376 346.1M376 398.4L377.5 398.4L382.8 400.5M445.8 400.5L452.2 398.1L465.8 394.1L469.3 392.5L472.6 390.1L475.2 386.9L476.9 383.7L478.6 374.9L480 370.1L481.7 369.3L486.2 368L491.9 366.9L501.8 363.7L513.4 361.8L533.3 363.7L538.1 364.5L540.6 365.2L565.5 364.5L567.8 363.9L568.8 367.7L570.5 377.3L571.3 379.7L572.5 382.1L574.5 384.5L578 387.7L582.8 391.7L585.6 393.3L587.7 394.9L589.1 397.3L589.9 400.5M627.9 400.5L625.7 398.9L622.7 397.3L622.3 396.5L649.3 396L656.9 394.9L666.7 394.1L678 393.6M678 340.1L676.5 340.1L663.6 337.3L649.3 333.3L641.8 329.3L622.1 320.9L603.9 309.3L585.6 298.9L577 294.9L567.8 291.3L540.6 292.3L529.5 300.5L524.6 304.5L521.3 307.7L515.9 311.7L513.4 313.1L508 314.9L502.6 317.3L497.9 319.7L495.5 321.3L491.8 324.5L486.2 331.3L476 333.3L459 335.3L431.9 339.3L404.7 339.7L376 341.7M456.4 400.5L459 399.2L467 398.1L474 396.5L477.3 394.9L479.3 393.3L481 390.9L482.3 387.7L483.3 383.7L484.5 375.7L486.2 370.3L499.9 369.3L506.4 368.5L508.8 367.7L513.4 365.1L519.2 367.7L521.9 369.3L525.1 371.7L528.1 374.9L534 382.9L536.6 385.3L539 386.9L542.8 388.5L567.1 395.7L571 398.1L573 400.5M678 336.9L676.5 336.9L671.5 335.7L656.4 331.7L649.3 329.3L626.5 319.7L622.1 317.7L606.3 307.7L588 297.3L579.3 293.3L567.8 288.8L540.6 289.9L526.7 300.5L521.8 304.5L518.5 307.7L514.1 310.9L513.4 311.3L504.5 314.1L497.7 317.3L494.8 318.9L491.5 321.3L488.9 323.7L486.2 326.9L481.1 328.5L464.4 331.7L431.9 336.1L404.7 336.7L376 338.5M493.6 400.5L505.3 392.5L509.6 390.1L513.4 388.4L515.9 390.1L519.8 391.7L522.8 392.5L537.3 394.9L540.4 395.7L540.6 396.5L539.8 398.1L538.7 398.9L535.4 400.5M678 333.7L676.5 333.7L667.9 331.7L658.5 328.5L649.3 326.1L629.8 318.1L622.1 314.5L608.9 306.1L590.5 295.7L583.7 292.5L573.8 288.5L567.8 285.7L540.6 287L536.4 290.9L523.8 300.5L519 304.5L515.7 307.7L513.4 309.3L505.2 311.7L498.8 314.1L491.5 318.1L488.3 320.5L486.2 322.5L479.8 325.3L474.7 326.9L467.2 328.5L451.5 330.9L431.9 333.3L404.7 333.7L376 334.9"/>
</g>
<rect x="377.5" y="241.5" width="299.0" height="158.60000000000002" fill="none" stroke="#000" stroke-width="1"/>
<path fill="none" stroke="#222" stroke-width="0.9" d="M377.5 400.1V406.9M404.7 400.1V406.9M431.9 400.1V406.9M459 400.1V406.9M486.2 400.1V406.9M513.4 400.1V406.9M540.6 400.1V406.9M567.8 400.1V406.9M595 400.1V406.9M622.1 400.1V406.9M649.3 400.1V406.9M676.5 400.1V406.9M377.5 397.2H374.3M676.5 397.2H679.7M377.5 389.2H374.3M676.5 389.2H679.7M377.5 381.2H371M676.5 381.2H683M377.5 373.2H374.3M676.5 373.2H679.7M377.5 365.2H374.3M676.5 365.2H679.7M377.5 357.2H374.3M676.5 357.2H679.7M377.5 349.3H374.3M676.5 349.3H679.7M377.5 341.3H371M676.5 341.3H683M377.5 333.3H374.3M676.5 333.3H679.7M377.5 325.3H374.3M676.5 325.3H679.7M377.5 317.3H374.3M676.5 317.3H679.7M377.5 309.3H374.3M676.5 309.3H679.7M377.5 301.3H371M676.5 301.3H683M377.5 293.3H374.3M676.5 293.3H679.7M377.5 285.4H374.3M676.5 285.4H679.7M377.5 277.4H374.3M676.5 277.4H679.7M377.5 269.4H374.3M676.5 269.4H679.7M377.5 261.4H371M676.5 261.4H683M377.5 253.4H374.3M676.5 253.4H679.7M377.5 245.4H374.3M676.5 245.4H679.7"/>
<text x="377.5" y="422.5" text-anchor="middle" class="tl">Jan</text>
<text x="404.7" y="422.5" text-anchor="middle" class="tl">Feb</text>
<text x="431.9" y="422.5" text-anchor="middle" class="tl">Mar</text>
<text x="459" y="422.5" text-anchor="middle" class="tl">Apr</text>
<text x="486.2" y="422.5" text-anchor="middle" class="tl">May</text>
<text x="513.4" y="422.5" text-anchor="middle" class="tl">Jun</text>
<text x="540.6" y="422.5" text-anchor="middle" class="tl">Jul</text>
<text x="567.8" y="422.5" text-anchor="middle" class="tl">Aug</text>
<text x="595" y="422.5" text-anchor="middle" class="tl">Sep</text>
<text x="622.1" y="422.5" text-anchor="middle" class="tl">Oct</text>
<text x="649.3" y="422.5" text-anchor="middle" class="tl">Nov</text>
<text x="676.5" y="422.5" text-anchor="middle" class="tl">Dec</text>
<text x="364.2" y="385.5" text-anchor="end" class="tl">0</text>
<text x="364.2" y="345.6" text-anchor="end" class="tl">10N</text>
<text x="364.2" y="305.6" text-anchor="end" class="tl">20N</text>
<text x="364.2" y="265.7" text-anchor="end" class="tl">30N</text>
<text x="379.3" y="233.2" class="tg">(d)</text>
<text x="672.8" y="234.8" text-anchor="end" class="tt">HiRAM ESM2M</text>
<rect x="171.8" y="441.2" width="14.5" height="14.5" fill="#313695"/>
<rect x="186" y="441.2" width="14.5" height="14.5" fill="#394ea1"/>
<rect x="200.2" y="441.2" width="14.5" height="14.5" fill="#4067ad"/>
<rect x="214.5" y="441.2" width="14.5" height="14.5" fill="#4c7db8"/>
<rect x="228.7" y="441.2" width="14.5" height="14.5" fill="#5e93c4"/>
<rect x="242.9" y="441.2" width="14.5" height="14.5" fill="#70a9cf"/>
<rect x="257.1" y="441.2" width="14.5" height="14.5" fill="#85bbd8"/>
<rect x="271.3" y="441.2" width="14.5" height="14.5" fill="#9acbe2"/>
<rect x="285.5" y="441.2" width="14.5" height="14.5" fill="#afdbea"/>
<rect x="299.8" y="441.2" width="14.5" height="14.5" fill="#c3e5f0"/>
<rect x="314" y="441.2" width="14.5" height="14.5" fill="#d6eef6"/>
<rect x="328.2" y="441.2" width="14.5" height="14.5" fill="#e8f0e1"/>
<rect x="342.4" y="441.2" width="14.5" height="14.5" fill="#f5e8b2"/>
<rect x="356.6" y="441.2" width="14.5" height="14.5" fill="#fedd89"/>
<rect x="370.8" y="441.2" width="14.5" height="14.5" fill="#fecb7a"/>
<rect x="385.1" y="441.2" width="14.5" height="14.5" fill="#fdb667"/>
<rect x="399.3" y="441.2" width="14.5" height="14.5" fill="#fb9e59"/>
<rect x="413.5" y="441.2" width="14.5" height="14.5" fill="#f8854d"/>
<rect x="427.7" y="441.2" width="14.5" height="14.5" fill="#f36e42"/>
<rect x="441.9" y="441.2" width="14.5" height="14.5" fill="#ea5738"/>
<rect x="456.1" y="441.2" width="14.5" height="14.5" fill="#df3f2e"/>
<rect x="470.4" y="441.2" width="14.5" height="14.5" fill="#d02a28"/>
<rect x="484.6" y="441.2" width="14.5" height="14.5" fill="#bc1627"/>
<rect x="498.8" y="441.2" width="14.5" height="14.5" fill="#a70326"/>
<path d="M186 441.2V455.7M200.2 441.2V455.7M214.5 441.2V455.7M228.7 441.2V455.7M242.9 441.2V455.7M257.1 441.2V455.7M271.3 441.2V455.7M285.5 441.2V455.7M299.8 441.2V455.7M314 441.2V455.7M328.2 441.2V455.7M342.4 441.2V455.7M356.6 441.2V455.7M370.8 441.2V455.7M385.1 441.2V455.7M399.3 441.2V455.7M413.5 441.2V455.7M427.7 441.2V455.7M441.9 441.2V455.7M456.1 441.2V455.7M470.4 441.2V455.7M484.6 441.2V455.7M498.8 441.2V455.7" stroke="#222" stroke-width="0.8" fill="none"/>
<rect x="171.8" y="441.2" width="341.2" height="14.5" fill="none" stroke="#222" stroke-width="0.8"/>
<text x="200.2" y="466.5" text-anchor="middle" class="cl">-10</text>
<text x="228.7" y="466.5" text-anchor="middle" class="cl">-8</text>
<text x="257.1" y="466.5" text-anchor="middle" class="cl">-6</text>
<text x="285.5" y="466.5" text-anchor="middle" class="cl">-4</text>
<text x="314" y="466.5" text-anchor="middle" class="cl">-2</text>
<text x="342.4" y="466.5" text-anchor="middle" class="cl">0</text>
<text x="370.8" y="466.5" text-anchor="middle" class="cl">2</text>
<text x="399.3" y="466.5" text-anchor="middle" class="cl">4</text>
<text x="427.7" y="466.5" text-anchor="middle" class="cl">6</text>
<text x="456.1" y="466.5" text-anchor="middle" class="cl">8</text>
<text x="484.6" y="466.5" text-anchor="middle" class="cl">10</text>
</svg>
</body></html>
